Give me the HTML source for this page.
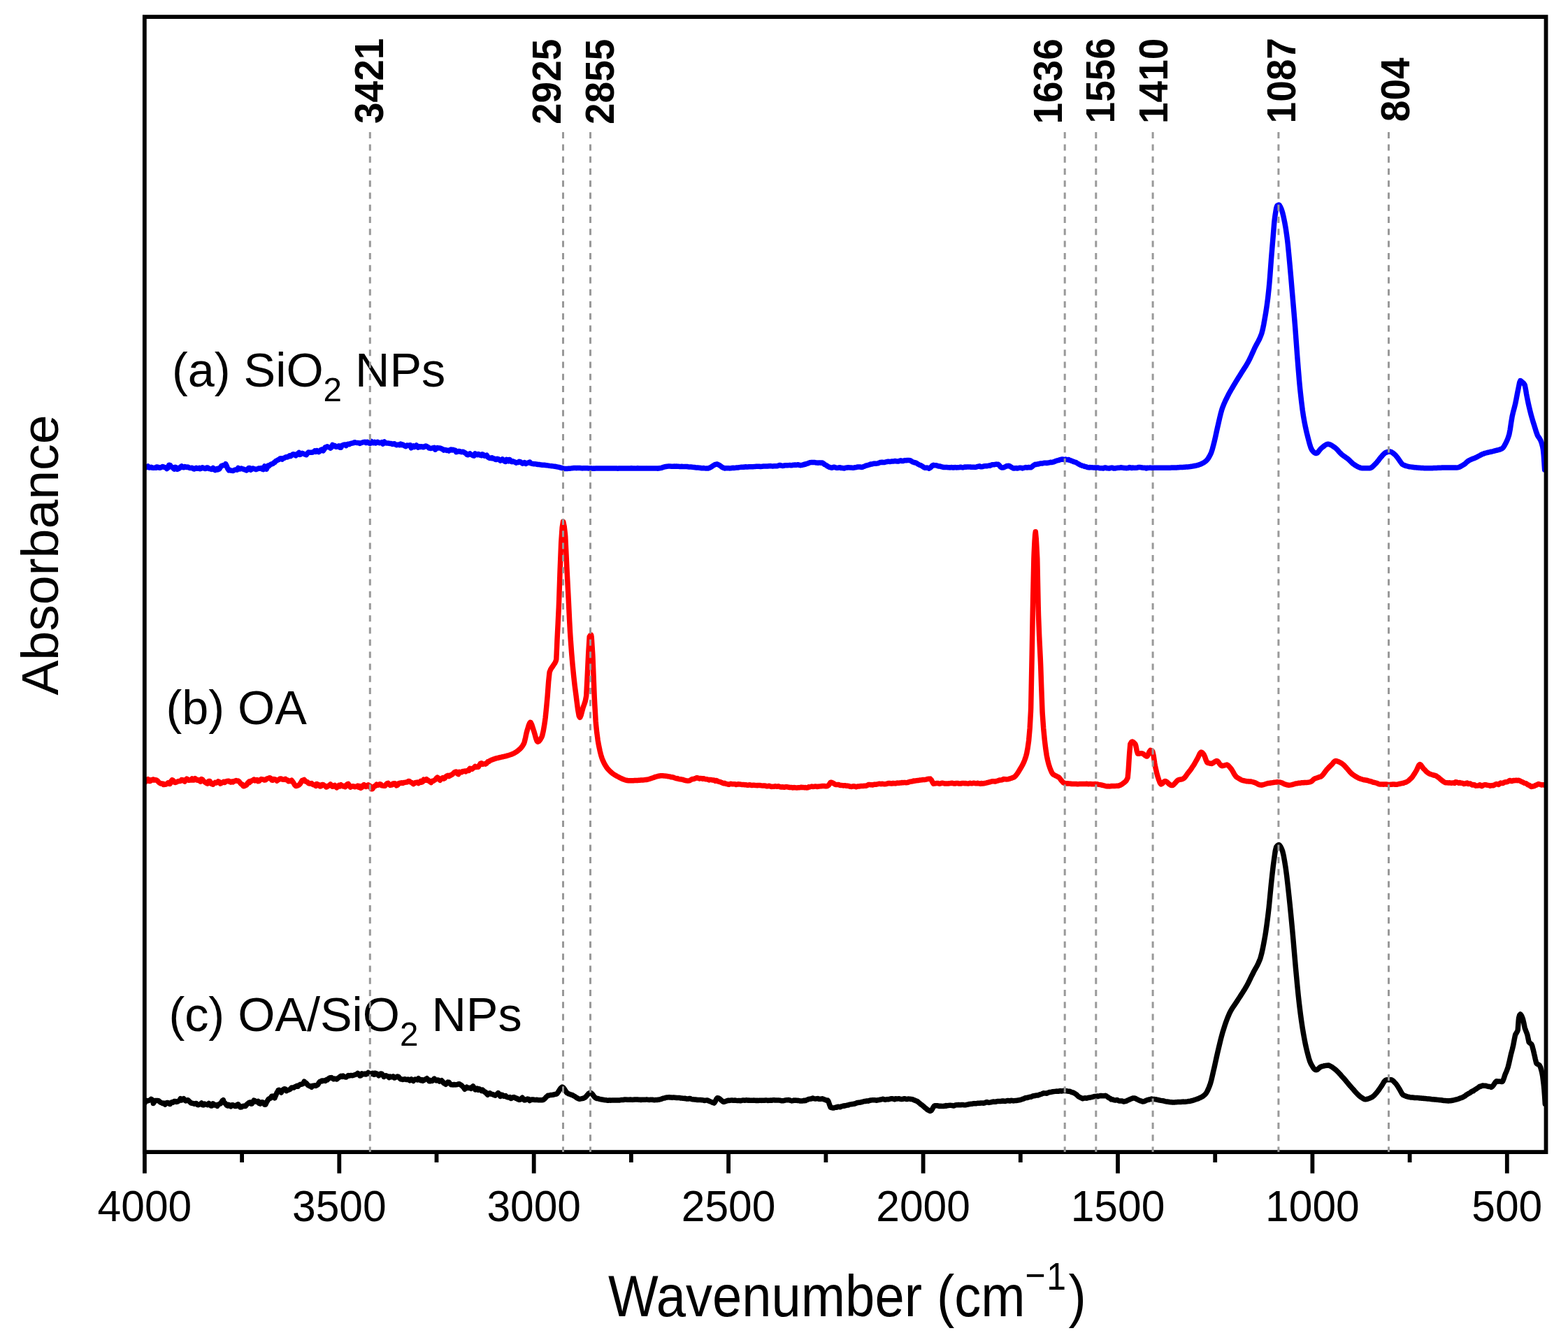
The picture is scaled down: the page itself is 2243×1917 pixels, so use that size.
<!DOCTYPE html>
<html><head><meta charset="utf-8"><title>FTIR spectra</title>
<style>
html,body{margin:0;padding:0;background:#fff;}
body{width:2243px;height:1917px;overflow:hidden;}
svg{display:block;}
text{font-family:"Liberation Sans",Arial,Helvetica,sans-serif;fill:#000;}
</style></head><body>
<svg width="2243" height="1917" viewBox="0 0 2243 1917">
<rect x="0" y="0" width="2243" height="1917" fill="#fff"/>
<defs><clipPath id="pa"><rect x="206.8" y="24.1" width="2004.7" height="1624.0"/></clipPath></defs>
<g clip-path="url(#pa)" fill="none" stroke-width="7.5" stroke-linejoin="round" stroke-linecap="round">
<path stroke="#0000ff" d="M207.2,668.3 L208.7,668.9 L210.2,668.1 L211.7,667.0 L213.2,668.9 L214.7,669.0 L216.2,668.2 L217.7,669.2 L219.2,669.4 L220.7,669.2 L222.2,669.1 L223.7,669.2 L224.0,668.1 L225.2,668.1 L226.7,668.4 L228.2,669.3 L229.7,669.0 L231.2,668.2 L232.7,667.6 L234.2,668.2 L235.7,668.6 L237.2,669.0 L238.7,670.6 L240.2,669.4 L241.7,665.2 L243.2,665.4 L244.7,667.7 L246.2,668.3 L247.7,669.0 L248.0,670.0 L249.2,671.0 L250.7,668.2 L252.2,668.7 L253.7,671.4 L255.2,670.7 L256.7,669.8 L258.2,668.0 L259.7,666.9 L261.2,668.6 L262.7,668.8 L264.2,667.5 L265.7,667.9 L267.2,668.5 L268.7,668.1 L270.2,668.9 L271.7,669.5 L273.2,669.4 L274.7,669.2 L276.2,670.5 L277.7,671.1 L279.2,670.2 L280.7,669.3 L282.2,670.3 L283.7,670.0 L284.5,670.4 L285.2,669.5 L286.7,670.7 L288.2,670.0 L289.7,668.7 L291.2,669.5 L292.7,670.5 L294.2,670.5 L295.7,669.1 L297.2,669.1 L298.7,670.4 L300.2,670.5 L301.7,671.3 L303.2,671.4 L304.7,669.5 L306.2,671.3 L307.7,672.6 L309.2,671.0 L310.7,670.4 L311.0,671.9 L312.2,671.8 L313.7,671.0 L315.2,668.7 L316.7,666.5 L318.2,666.0 L319.7,665.4 L321.2,665.8 L321.9,664.9 L322.7,663.6 L324.2,666.4 L325.7,670.5 L327.2,672.7 L328.0,671.9 L328.7,672.3 L330.2,673.1 L331.7,673.4 L333.2,673.6 L334.7,672.8 L336.2,672.0 L337.7,672.1 L339.2,672.2 L340.7,669.5 L342.2,670.7 L343.7,671.0 L345.2,670.0 L346.7,670.9 L348.2,671.0 L349.6,671.9 L349.7,671.6 L351.2,672.3 L352.7,672.9 L354.2,671.6 L355.7,669.5 L357.2,669.5 L358.7,672.3 L360.2,671.2 L361.7,670.0 L363.2,670.6 L364.7,670.9 L366.2,671.7 L367.7,671.0 L369.2,670.4 L370.7,669.9 L372.2,670.3 L373.7,669.6 L375.2,671.2 L376.7,671.6 L378.2,667.9 L378.6,666.9 L379.7,670.4 L381.2,671.2 L382.7,667.5 L383.4,666.3 L384.2,667.0 L385.7,665.5 L387.2,664.4 L388.7,663.9 L390.2,663.5 L391.7,662.1 L393.0,661.6 L393.2,661.0 L394.7,659.6 L396.2,658.8 L397.7,657.9 L399.2,657.4 L400.7,655.9 L402.2,655.7 L403.7,657.1 L405.0,655.9 L405.2,655.5 L406.7,655.3 L408.2,654.1 L409.7,653.8 L411.2,654.0 L412.7,653.2 L414.2,651.9 L415.7,652.6 L417.2,651.3 L418.7,650.0 L420.2,649.8 L421.7,650.8 L423.2,651.8 L424.7,649.7 L426.2,649.0 L427.7,647.5 L429.0,649.0 L429.2,650.4 L430.7,649.0 L432.2,648.3 L433.7,649.0 L435.2,649.6 L436.7,650.1 L438.2,650.7 L439.7,648.7 L441.2,647.1 L442.7,647.2 L444.2,647.3 L445.7,647.3 L447.2,647.0 L448.7,646.3 L450.2,645.0 L451.7,646.3 L453.2,645.1 L453.4,644.6 L454.7,646.1 L456.2,646.6 L457.7,645.2 L459.2,643.5 L460.7,642.8 L462.2,644.9 L463.7,643.0 L465.2,639.9 L465.4,639.8 L466.7,640.0 L468.2,638.8 L469.7,639.6 L471.2,639.9 L472.7,641.2 L474.2,639.9 L475.7,636.5 L477.2,637.4 L478.7,637.4 L480.2,639.3 L481.7,639.3 L483.2,638.5 L484.7,637.8 L486.2,640.3 L487.7,640.2 L489.2,637.2 L489.6,637.2 L490.7,636.6 L492.2,636.2 L493.7,636.0 L495.2,637.6 L496.7,635.6 L498.2,635.3 L499.7,635.7 L501.2,634.6 L502.7,634.3 L504.2,633.9 L505.7,633.7 L507.2,632.7 L508.7,633.1 L510.2,633.4 L511.7,633.4 L513.2,633.6 L513.7,633.8 L514.7,634.5 L516.2,633.7 L517.7,633.2 L519.2,632.7 L520.7,632.4 L522.2,632.3 L523.7,633.5 L525.2,632.3 L526.7,632.6 L528.2,634.1 L529.4,634.3 L529.7,632.7 L531.2,631.4 L532.7,633.6 L534.2,633.7 L535.7,632.5 L537.2,633.9 L538.7,632.8 L540.2,632.2 L541.7,633.4 L543.2,633.7 L544.7,633.3 L546.2,632.7 L547.7,635.1 L549.2,633.2 L550.0,632.0 L550.7,633.8 L552.2,633.8 L553.7,634.1 L555.2,633.9 L556.7,634.3 L558.2,634.6 L559.7,634.4 L561.2,635.5 L562.7,634.9 L564.2,634.7 L565.7,636.0 L567.2,636.8 L568.7,636.2 L570.2,636.1 L571.7,636.8 L573.2,635.2 L574.0,635.6 L574.7,636.6 L576.2,636.0 L577.7,637.2 L579.2,638.1 L580.7,638.6 L582.2,637.1 L583.7,637.2 L585.2,637.4 L586.7,636.8 L588.2,640.8 L589.7,638.6 L591.2,637.8 L592.7,639.4 L594.2,638.3 L595.7,637.0 L597.2,639.3 L598.0,640.1 L598.7,638.8 L600.2,638.8 L601.7,639.4 L603.2,638.7 L604.7,639.7 L606.2,639.7 L607.7,638.5 L609.2,637.9 L610.7,638.8 L612.2,639.4 L613.7,641.1 L615.2,641.2 L616.7,641.5 L618.2,641.1 L619.7,640.8 L621.2,640.3 L622.3,642.1 L622.7,643.2 L624.2,641.3 L625.7,640.5 L627.2,641.0 L628.7,640.9 L630.2,641.1 L631.7,642.0 L633.2,642.7 L634.7,644.2 L636.2,643.5 L637.7,643.8 L639.2,644.4 L640.7,644.2 L642.2,645.1 L643.7,643.7 L645.2,643.1 L646.4,643.9 L646.7,643.9 L648.2,643.3 L649.7,644.0 L651.2,644.2 L652.7,646.7 L654.2,646.3 L655.7,645.4 L657.2,645.4 L658.7,646.3 L660.2,646.7 L661.7,646.2 L663.2,646.6 L664.7,647.6 L666.2,648.4 L667.7,650.2 L669.2,650.8 L670.6,650.1 L670.7,649.6 L672.2,648.8 L673.7,650.3 L675.2,650.8 L676.7,651.8 L678.2,652.1 L679.7,649.0 L680.0,650.0 L681.2,650.0 L682.7,650.7 L684.2,649.5 L685.7,650.0 L687.2,651.3 L688.7,651.8 L689.7,651.0 L690.2,649.9 L691.7,650.6 L693.2,652.3 L694.7,651.8 L696.2,651.2 L697.7,653.7 L699.2,654.9 L700.7,655.4 L702.2,655.3 L703.7,655.8 L704.0,654.9 L705.2,655.8 L706.7,655.9 L708.2,657.2 L709.7,657.6 L711.2,656.3 L712.7,656.7 L714.2,657.7 L715.7,659.1 L717.2,658.4 L718.7,656.9 L720.2,658.4 L721.7,660.0 L723.2,660.5 L724.7,657.3 L726.2,658.1 L727.7,659.8 L728.3,657.6 L729.2,657.6 L730.7,659.9 L732.2,660.7 L733.7,659.7 L735.2,660.5 L736.7,661.2 L738.2,662.2 L739.7,661.6 L741.2,661.6 L742.7,660.3 L744.2,660.7 L745.7,661.7 L747.2,663.1 L748.7,662.6 L750.2,661.6 L751.7,663.0 L752.4,663.4 L753.2,662.5 L754.7,662.2 L756.2,661.8 L757.7,661.0 L759.2,662.8 L760.7,663.3 L762.2,663.4 L763.7,663.7 L765.2,663.7 L766.7,663.9 L768.2,664.2 L769.7,664.5 L771.2,664.5 L772.7,664.8 L774.2,665.0 L775.7,665.2 L776.5,665.3 L777.2,665.2 L778.7,665.3 L780.2,665.6 L781.7,665.7 L783.2,665.9 L784.7,666.1 L786.2,666.4 L787.7,666.6 L789.2,666.7 L790.7,666.9 L792.2,667.1 L793.7,667.3 L795.2,667.5 L795.8,667.6 L796.7,667.8 L798.2,668.1 L799.7,668.4 L801.2,668.9 L802.7,669.2 L804.2,669.6 L805.7,670.0 L807.2,670.4 L808.7,670.5 L810.2,670.6 L810.3,670.6 L811.7,670.4 L813.2,670.3 L814.7,670.3 L816.2,670.1 L817.7,669.9 L819.2,669.7 L820.7,669.6 L822.2,669.5 L823.7,669.6 L824.8,669.7 L825.2,669.6 L826.7,669.6 L828.2,669.5 L829.7,669.6 L831.2,669.7 L832.7,669.9 L834.2,669.8 L835.7,669.7 L837.2,669.7 L838.7,669.7 L840.2,669.8 L841.7,669.9 L843.2,670.0 L844.7,670.1 L846.2,670.1 L847.7,670.2 L849.0,670.2 L849.2,670.1 L850.7,670.2 L852.2,670.1 L853.7,670.0 L855.2,670.0 L856.7,670.0 L858.2,670.0 L859.7,670.0 L861.2,670.0 L862.7,670.0 L864.2,669.9 L865.7,669.9 L867.2,669.9 L868.7,670.0 L870.2,670.1 L871.7,670.0 L873.2,670.0 L874.7,670.0 L876.2,670.0 L877.7,670.0 L879.2,670.1 L880.7,670.1 L882.2,670.1 L883.7,670.2 L885.2,670.1 L886.7,670.1 L888.2,670.1 L889.7,670.0 L891.2,669.9 L892.7,669.9 L894.2,670.0 L895.7,670.1 L897.2,670.1 L898.7,670.0 L900.2,670.0 L901.7,670.0 L903.2,669.8 L904.7,670.0 L906.2,670.0 L907.7,669.9 L909.2,670.1 L910.7,669.9 L912.2,669.8 L913.7,669.9 L915.2,670.0 L916.7,670.0 L918.2,670.1 L919.7,670.1 L921.2,670.0 L922.7,669.9 L924.2,670.0 L925.7,670.1 L927.2,669.9 L928.7,669.9 L930.2,670.0 L931.7,670.1 L933.2,670.1 L934.7,670.0 L936.2,670.0 L937.7,670.1 L939.2,670.0 L940.6,669.9 L940.7,670.2 L942.2,670.1 L943.7,669.7 L945.2,669.5 L946.7,669.2 L948.2,668.6 L949.7,668.1 L951.2,667.8 L952.7,667.5 L954.2,667.3 L955.7,667.1 L957.2,667.0 L957.5,666.9 L958.7,667.1 L960.2,667.2 L961.7,667.2 L963.2,667.2 L964.7,667.1 L966.2,667.2 L967.7,667.1 L969.2,667.2 L970.7,667.3 L972.2,667.4 L973.7,667.4 L975.2,667.3 L976.7,667.4 L978.2,667.6 L979.7,667.4 L981.2,667.5 L981.6,667.5 L982.7,667.5 L984.2,667.8 L985.7,668.0 L987.2,668.1 L988.7,668.1 L990.2,668.2 L991.7,668.4 L993.2,668.5 L994.7,668.8 L996.2,669.0 L997.7,669.1 L999.2,669.1 L1000.7,669.3 L1002.2,669.5 L1003.7,669.7 L1005.2,669.7 L1006.7,669.6 L1008.2,669.9 L1009.7,670.1 L1011.2,670.1 L1012.7,670.1 L1013.0,670.0 L1014.2,669.6 L1015.7,669.0 L1017.2,668.2 L1018.7,667.2 L1020.2,666.1 L1021.7,665.2 L1023.2,664.4 L1024.7,664.1 L1025.0,664.0 L1026.2,664.1 L1027.7,664.8 L1029.2,665.6 L1030.7,666.6 L1032.2,667.8 L1033.7,668.8 L1035.2,669.4 L1036.7,669.9 L1037.0,669.9 L1038.2,669.8 L1039.7,669.8 L1041.2,669.8 L1042.7,669.8 L1044.2,669.9 L1045.7,669.7 L1047.2,669.4 L1048.7,669.3 L1050.2,669.4 L1051.7,669.3 L1053.2,669.1 L1054.7,669.0 L1056.2,668.9 L1057.7,668.6 L1059.2,668.4 L1060.7,668.2 L1062.2,668.2 L1063.7,668.3 L1065.2,668.0 L1066.0,667.9 L1066.7,667.8 L1068.2,667.9 L1069.7,667.9 L1071.2,667.8 L1072.7,667.8 L1074.2,667.8 L1075.7,667.7 L1077.2,667.7 L1078.7,667.6 L1080.2,667.4 L1081.7,667.3 L1083.2,667.3 L1084.7,667.3 L1086.2,667.3 L1087.7,667.5 L1089.2,667.4 L1090.7,667.2 L1092.2,667.1 L1093.7,667.1 L1095.2,666.9 L1096.7,666.9 L1098.2,667.0 L1099.7,666.8 L1101.2,666.6 L1102.7,666.7 L1104.2,666.9 L1105.7,666.9 L1107.2,666.8 L1108.7,666.8 L1110.2,666.7 L1111.7,666.8 L1113.2,666.2 L1114.4,665.7 L1114.7,665.6 L1116.2,665.6 L1117.7,666.1 L1119.2,666.5 L1120.7,666.3 L1122.2,665.9 L1123.7,665.7 L1125.2,665.7 L1126.7,665.8 L1128.2,665.6 L1129.7,665.4 L1131.2,665.7 L1132.7,665.8 L1134.2,665.2 L1135.7,665.2 L1137.2,665.0 L1138.7,665.3 L1140.2,665.1 L1141.7,664.7 L1143.2,665.3 L1144.7,665.7 L1146.2,665.4 L1147.7,665.3 L1149.2,664.7 L1150.6,664.1 L1150.7,664.6 L1152.2,664.2 L1153.7,663.4 L1155.2,663.2 L1156.7,662.5 L1158.2,661.8 L1159.7,661.6 L1160.2,661.4 L1161.2,661.5 L1162.7,661.4 L1164.2,661.5 L1165.7,661.5 L1167.2,662.0 L1168.7,662.1 L1170.2,662.2 L1171.7,661.9 L1173.2,662.0 L1174.7,662.2 L1176.2,661.9 L1177.7,662.9 L1179.2,664.2 L1179.3,664.3 L1180.7,665.0 L1182.2,665.8 L1183.7,667.0 L1185.2,667.8 L1186.7,668.4 L1188.2,668.8 L1189.0,669.1 L1189.7,669.2 L1191.2,668.9 L1192.7,668.2 L1194.2,668.5 L1195.7,669.1 L1197.2,669.4 L1198.7,669.2 L1200.2,668.9 L1201.7,668.8 L1203.2,669.6 L1204.7,669.4 L1206.2,669.8 L1207.7,669.9 L1209.2,669.4 L1210.7,669.0 L1212.2,669.0 L1213.7,668.7 L1215.2,668.9 L1216.7,669.0 L1218.2,669.1 L1219.7,669.3 L1221.2,669.3 L1222.7,668.8 L1224.2,668.7 L1225.7,668.2 L1227.2,668.0 L1228.7,667.9 L1230.2,667.9 L1231.7,668.3 L1232.4,668.5 L1233.2,668.4 L1234.7,667.8 L1236.2,667.3 L1237.7,666.6 L1239.2,666.0 L1240.7,665.8 L1242.2,665.3 L1243.7,664.7 L1244.5,664.6 L1245.2,664.1 L1246.7,664.0 L1248.2,663.7 L1249.7,663.3 L1251.2,663.1 L1252.7,663.3 L1254.2,663.1 L1255.7,662.9 L1257.2,662.3 L1258.7,661.6 L1260.2,661.5 L1261.7,661.2 L1263.2,661.5 L1264.7,661.6 L1266.2,661.2 L1267.7,660.7 L1268.6,660.6 L1269.2,660.6 L1270.7,660.2 L1272.2,660.4 L1273.7,660.4 L1275.2,660.1 L1276.7,660.0 L1278.2,660.0 L1279.7,659.6 L1281.2,659.6 L1282.7,659.9 L1284.2,659.9 L1285.7,659.9 L1287.2,659.2 L1288.7,658.8 L1290.2,659.5 L1291.7,659.6 L1293.2,658.9 L1294.7,658.6 L1296.2,658.8 L1297.7,658.5 L1299.2,658.6 L1300.0,658.4 L1300.7,658.6 L1302.2,658.8 L1303.7,659.7 L1305.2,660.8 L1306.7,661.2 L1308.2,661.9 L1309.6,662.1 L1309.7,661.9 L1311.2,662.6 L1312.7,663.7 L1314.2,664.5 L1315.7,665.4 L1317.2,665.7 L1318.7,666.6 L1320.2,667.6 L1321.7,668.6 L1323.2,669.3 L1324.7,669.2 L1326.2,669.1 L1327.7,669.4 L1329.0,670.2 L1329.2,670.0 L1330.7,669.2 L1332.2,667.8 L1333.7,666.0 L1335.2,665.2 L1336.0,665.7 L1336.7,665.8 L1338.2,665.7 L1339.7,665.8 L1341.2,666.5 L1342.7,667.1 L1344.2,666.9 L1345.7,667.4 L1347.2,667.8 L1348.7,668.3 L1350.2,668.6 L1351.7,668.6 L1353.0,668.5 L1353.2,668.6 L1354.7,668.6 L1356.2,668.7 L1357.7,668.8 L1359.2,668.9 L1360.7,668.6 L1362.2,668.7 L1363.7,669.0 L1365.2,668.7 L1366.7,668.6 L1368.2,668.9 L1369.7,668.8 L1371.2,668.7 L1372.7,668.5 L1374.2,668.2 L1375.7,668.6 L1377.2,668.9 L1378.7,668.6 L1380.2,668.0 L1381.7,668.2 L1383.2,668.0 L1384.7,668.1 L1386.2,668.1 L1387.7,667.9 L1389.2,668.3 L1390.7,668.2 L1392.2,668.2 L1393.7,668.3 L1395.2,668.4 L1396.7,668.1 L1398.2,667.4 L1399.7,667.3 L1401.2,666.9 L1401.3,667.3 L1402.7,667.7 L1404.2,667.8 L1405.7,667.6 L1407.2,667.0 L1408.7,666.8 L1410.2,666.6 L1411.7,666.7 L1413.2,666.4 L1414.7,666.0 L1416.2,666.3 L1417.7,665.4 L1419.2,664.8 L1420.7,664.8 L1422.2,664.7 L1423.7,664.4 L1425.2,664.1 L1426.7,664.4 L1427.9,664.3 L1428.2,664.6 L1429.7,666.0 L1431.2,668.0 L1432.7,669.0 L1434.2,669.0 L1435.7,668.8 L1437.2,668.1 L1438.7,667.4 L1440.2,666.6 L1441.7,666.6 L1442.3,666.7 L1443.2,666.3 L1444.7,667.0 L1446.2,668.1 L1447.7,668.9 L1449.2,669.6 L1449.6,670.1 L1450.7,670.1 L1452.2,669.8 L1453.7,669.6 L1455.2,670.1 L1456.7,669.7 L1458.2,669.2 L1459.7,669.2 L1461.2,669.4 L1462.7,669.9 L1464.2,669.5 L1465.7,669.0 L1467.2,668.6 L1468.7,669.0 L1470.2,668.7 L1471.7,668.5 L1473.2,668.8 L1473.7,668.7 L1474.7,668.8 L1476.2,667.9 L1477.7,666.3 L1479.2,665.3 L1480.7,664.4 L1481.0,664.6 L1482.2,664.5 L1483.7,663.9 L1485.2,664.1 L1486.7,663.5 L1488.2,662.9 L1489.7,663.0 L1491.2,663.0 L1492.7,662.5 L1494.2,662.3 L1495.7,662.2 L1497.2,662.5 L1498.7,662.2 L1500.2,661.9 L1501.7,661.8 L1502.7,661.2 L1503.2,661.3 L1504.7,661.5 L1506.2,661.0 L1507.7,660.7 L1509.2,660.0 L1510.7,659.3 L1512.2,658.9 L1513.7,658.6 L1515.2,658.1 L1516.7,657.6 L1518.2,657.3 L1519.7,657.0 L1521.2,657.3 L1522.0,657.6 L1522.7,657.5 L1524.2,657.1 L1525.7,657.6 L1527.2,657.7 L1528.7,657.5 L1529.2,658.0 L1530.2,658.4 L1531.7,658.8 L1533.2,659.4 L1534.7,660.1 L1536.2,660.7 L1537.7,661.1 L1539.2,661.4 L1540.7,662.5 L1542.2,663.5 L1543.7,664.2 L1545.2,665.1 L1546.0,665.5 L1546.7,665.7 L1548.2,666.4 L1549.7,666.6 L1551.2,667.2 L1552.7,667.5 L1554.2,667.9 L1555.7,668.5 L1557.2,668.7 L1558.2,668.9 L1558.7,668.6 L1560.2,668.7 L1561.7,668.7 L1563.2,668.9 L1564.7,668.9 L1566.2,668.9 L1567.7,669.2 L1569.2,668.9 L1570.7,669.0 L1572.2,669.6 L1573.7,669.8 L1575.2,669.8 L1576.7,669.8 L1578.2,670.1 L1579.7,669.3 L1581.2,669.0 L1582.3,669.2 L1582.7,669.7 L1584.2,669.8 L1585.7,669.9 L1587.2,669.9 L1588.7,669.4 L1590.2,669.1 L1591.7,669.3 L1593.2,670.1 L1594.7,670.0 L1596.2,669.7 L1597.7,669.4 L1599.2,669.3 L1600.7,669.3 L1602.2,669.1 L1603.7,668.7 L1605.2,669.1 L1606.7,669.3 L1608.2,669.5 L1609.7,669.6 L1611.2,669.7 L1612.7,669.5 L1614.2,669.4 L1615.7,668.6 L1617.2,668.9 L1618.7,669.6 L1620.2,669.1 L1621.7,669.2 L1623.2,669.4 L1624.7,669.2 L1626.2,669.3 L1627.7,668.8 L1629.2,668.5 L1630.7,668.6 L1632.2,668.7 L1633.7,669.1 L1635.2,669.2 L1636.7,669.3 L1638.2,669.3 L1639.7,669.9 L1640.0,669.5 L1641.2,669.3 L1642.7,669.4 L1644.2,669.2 L1645.7,669.1 L1647.2,669.3 L1648.7,669.6 L1650.2,669.3 L1651.7,669.3 L1653.2,669.3 L1654.7,669.3 L1656.2,669.3 L1657.7,669.3 L1659.2,669.3 L1660.7,669.3 L1662.2,669.3 L1663.7,669.3 L1664.3,669.3 L1665.2,669.3 L1666.7,669.3 L1668.2,669.3 L1669.7,669.3 L1671.2,669.2 L1672.7,669.2 L1674.2,669.2 L1675.7,669.1 L1677.2,669.1 L1678.7,669.0 L1680.2,669.0 L1681.7,668.9 L1683.2,668.9 L1684.7,668.8 L1686.2,668.7 L1687.7,668.6 L1689.2,668.6 L1690.7,668.5 L1692.2,668.4 L1693.7,668.3 L1695.2,668.2 L1696.7,668.1 L1698.2,668.0 L1698.3,668.0 L1699.7,667.9 L1701.2,667.7 L1702.7,667.6 L1704.2,667.3 L1705.7,667.1 L1707.2,666.8 L1708.7,666.5 L1710.2,666.2 L1711.7,665.9 L1712.8,665.6 L1713.2,665.5 L1714.7,665.1 L1716.2,664.5 L1717.7,663.9 L1719.2,663.3 L1720.7,662.5 L1722.2,661.6 L1723.7,660.6 L1725.0,659.6 L1725.2,659.4 L1726.7,657.9 L1728.2,656.0 L1729.7,653.5 L1731.2,650.7 L1732.2,648.6 L1732.7,647.4 L1734.2,642.8 L1735.7,637.2 L1737.1,631.7 L1737.2,631.3 L1738.7,624.9 L1740.2,617.9 L1741.7,611.1 L1742.0,609.8 L1743.2,604.6 L1744.7,598.0 L1746.2,591.8 L1747.7,586.4 L1748.0,585.5 L1749.2,582.1 L1750.7,578.3 L1752.2,574.9 L1753.7,571.7 L1755.2,568.7 L1756.5,566.1 L1756.7,565.7 L1758.2,562.8 L1759.7,560.1 L1761.2,557.5 L1762.7,555.0 L1764.2,552.4 L1765.7,549.9 L1766.2,549.1 L1767.2,547.4 L1768.7,544.9 L1770.2,542.5 L1771.7,540.1 L1773.2,537.7 L1774.7,535.2 L1775.9,533.3 L1776.2,532.8 L1777.7,530.4 L1779.2,528.1 L1780.7,525.8 L1782.2,523.4 L1783.7,520.9 L1785.2,518.3 L1785.6,517.6 L1786.7,515.5 L1788.2,512.5 L1789.7,509.2 L1791.2,505.9 L1792.7,502.6 L1794.2,499.3 L1795.3,496.9 L1795.7,496.1 L1797.2,493.2 L1798.7,490.4 L1800.2,487.7 L1801.7,484.7 L1803.2,481.3 L1804.7,477.2 L1805.0,476.3 L1806.2,471.8 L1807.7,464.4 L1809.2,456.0 L1809.9,452.0 L1810.7,447.3 L1812.2,437.5 L1813.5,427.8 L1813.7,426.2 L1815.2,412.1 L1816.0,403.5 L1816.7,394.9 L1818.2,374.5 L1818.4,371.9 L1819.7,355.9 L1820.8,342.8 L1821.2,337.9 L1822.7,319.2 L1823.3,313.7 L1824.2,307.0 L1825.7,297.8 L1826.9,294.3 L1827.2,294.0 L1828.7,293.2 L1829.3,293.1 L1830.2,293.6 L1831.7,296.2 L1833.0,299.1 L1833.2,299.6 L1834.7,304.3 L1836.2,310.7 L1837.7,318.0 L1837.8,318.5 L1839.2,326.4 L1840.7,336.7 L1841.5,342.8 L1842.2,348.8 L1843.7,364.0 L1845.1,379.2 L1845.2,380.3 L1846.7,397.1 L1848.2,414.7 L1848.7,420.5 L1849.7,432.1 L1851.2,449.6 L1852.4,464.2 L1852.7,468.0 L1854.2,488.4 L1855.7,508.9 L1856.0,512.7 L1857.2,527.9 L1858.7,545.9 L1859.7,556.4 L1860.2,561.2 L1861.7,574.6 L1863.2,586.5 L1864.5,595.2 L1864.7,596.4 L1866.2,604.8 L1867.7,612.2 L1869.2,618.8 L1870.6,624.4 L1870.7,624.8 L1872.2,630.6 L1873.7,636.2 L1875.2,640.8 L1876.7,643.8 L1878.2,645.6 L1879.7,647.2 L1881.2,648.2 L1882.7,648.6 L1884.2,648.0 L1885.7,646.5 L1887.2,644.5 L1888.7,642.6 L1890.0,641.3 L1890.2,641.1 L1891.7,639.9 L1893.2,638.7 L1894.7,637.5 L1896.2,636.5 L1897.7,635.7 L1899.2,635.3 L1899.7,635.3 L1900.7,635.4 L1902.2,635.8 L1903.7,636.5 L1905.2,637.3 L1906.7,638.3 L1908.2,639.4 L1909.4,640.2 L1909.7,640.4 L1911.2,641.6 L1912.7,643.1 L1914.2,644.8 L1915.7,646.5 L1917.2,648.1 L1918.7,649.5 L1919.1,649.9 L1920.2,650.8 L1921.7,651.9 L1923.2,653.0 L1924.7,654.1 L1926.2,655.1 L1927.7,656.2 L1928.8,657.1 L1929.2,657.4 L1930.7,658.8 L1932.2,660.3 L1933.7,661.8 L1935.2,663.2 L1936.7,664.3 L1937.4,664.8 L1938.2,665.3 L1939.7,666.2 L1941.2,667.1 L1942.7,667.9 L1944.2,668.6 L1945.7,669.2 L1947.2,669.6 L1948.7,669.8 L1949.0,669.8 L1950.2,669.8 L1951.7,669.8 L1953.2,669.8 L1954.7,669.8 L1956.2,669.8 L1957.7,669.8 L1959.1,669.8 L1959.2,669.8 L1960.7,669.4 L1962.2,668.6 L1963.7,667.3 L1965.2,665.9 L1966.7,664.4 L1967.8,663.3 L1968.2,662.9 L1969.7,661.2 L1971.2,659.4 L1972.7,657.4 L1974.2,655.5 L1975.0,654.6 L1975.7,653.8 L1977.2,652.0 L1978.7,650.3 L1980.2,648.8 L1981.7,647.7 L1982.3,647.4 L1983.2,647.1 L1984.7,646.6 L1986.2,646.2 L1987.7,646.0 L1988.0,646.0 L1989.2,646.2 L1990.7,646.8 L1992.2,647.8 L1993.7,649.0 L1995.2,650.2 L1995.3,650.3 L1996.7,651.7 L1998.2,653.6 L1999.7,655.6 L2001.1,657.5 L2001.2,657.6 L2002.7,659.8 L2004.2,662.0 L2005.7,663.9 L2006.9,664.8 L2007.2,664.9 L2008.7,665.6 L2010.2,666.1 L2011.7,666.6 L2013.2,667.0 L2014.7,667.4 L2016.2,667.7 L2017.7,667.9 L2019.2,668.1 L2020.7,668.3 L2021.3,668.4 L2022.2,668.5 L2023.7,668.7 L2025.2,668.8 L2026.7,668.9 L2028.2,669.1 L2029.7,669.2 L2031.2,669.3 L2032.7,669.4 L2034.2,669.5 L2035.7,669.6 L2037.2,669.7 L2038.7,669.7 L2040.2,669.8 L2041.7,669.8 L2043.0,669.8 L2043.2,669.8 L2044.7,669.8 L2046.2,669.8 L2047.7,669.7 L2049.2,669.7 L2050.7,669.6 L2052.2,669.5 L2053.7,669.5 L2055.2,669.4 L2056.7,669.3 L2058.2,669.3 L2059.7,669.2 L2061.2,669.2 L2062.7,669.1 L2064.2,669.1 L2064.8,669.1 L2065.7,669.1 L2067.2,669.1 L2068.7,669.1 L2070.2,669.1 L2071.7,669.1 L2073.2,669.1 L2074.7,669.1 L2076.2,669.1 L2077.7,669.1 L2079.2,669.1 L2080.7,669.1 L2082.2,669.1 L2083.6,669.1 L2083.7,669.1 L2085.2,668.9 L2086.7,668.5 L2088.2,667.9 L2089.7,667.1 L2091.2,666.3 L2092.7,665.4 L2093.7,664.8 L2094.2,664.5 L2095.7,663.4 L2097.2,662.0 L2098.7,660.7 L2100.2,659.5 L2101.0,659.0 L2101.7,658.6 L2103.2,657.9 L2104.7,657.2 L2106.2,656.6 L2107.7,656.0 L2109.2,655.4 L2110.7,654.8 L2111.1,654.6 L2112.2,654.1 L2113.7,653.3 L2115.2,652.5 L2116.7,651.7 L2118.2,650.9 L2119.7,650.1 L2121.2,649.5 L2122.7,648.9 L2124.2,648.4 L2125.7,648.0 L2127.2,647.6 L2128.7,647.2 L2130.2,646.9 L2131.7,646.5 L2133.2,646.2 L2134.7,645.9 L2136.2,645.5 L2137.2,645.2 L2137.7,645.1 L2139.2,644.7 L2140.7,644.3 L2142.2,644.0 L2143.7,643.6 L2145.2,643.2 L2146.7,642.6 L2148.2,641.9 L2148.8,641.6 L2149.7,640.9 L2151.2,639.0 L2152.7,636.4 L2154.2,633.5 L2154.5,632.9 L2155.7,630.4 L2157.2,626.7 L2158.7,622.0 L2158.9,621.3 L2160.2,614.6 L2161.7,604.4 L2163.2,595.3 L2164.7,589.0 L2166.2,583.5 L2167.6,577.9 L2167.7,577.5 L2169.2,570.0 L2170.7,562.0 L2171.9,556.2 L2172.2,554.8 L2173.7,547.2 L2174.8,544.6 L2175.2,544.7 L2176.7,545.8 L2177.7,546.8 L2178.2,547.2 L2179.7,548.6 L2181.2,550.9 L2181.3,551.1 L2182.7,558.4 L2183.5,563.4 L2184.2,567.1 L2185.7,574.6 L2186.4,577.9 L2187.2,581.4 L2188.7,587.7 L2190.2,593.5 L2190.7,595.3 L2191.7,598.8 L2193.2,603.8 L2194.7,608.5 L2195.1,609.8 L2196.2,613.4 L2197.7,618.3 L2199.2,622.4 L2199.4,622.8 L2200.7,625.1 L2202.2,627.1 L2203.7,629.8 L2203.8,630.0 L2205.2,633.6 L2206.7,639.3 L2207.4,643.1 L2208.2,650.6 L2209.6,672.0"/>
<path stroke="#ff0000" d="M207.2,1119.3 L208.7,1117.8 L210.2,1116.1 L211.7,1114.8 L213.2,1117.6 L214.7,1117.5 L216.2,1115.8 L217.7,1116.1 L219.2,1115.6 L219.3,1115.0 L220.7,1116.1 L222.2,1115.8 L223.7,1116.0 L225.2,1116.9 L226.7,1118.8 L228.2,1119.9 L229.7,1120.9 L231.2,1120.9 L232.7,1121.4 L233.8,1121.2 L234.2,1122.6 L235.7,1122.4 L237.2,1122.1 L238.7,1121.3 L240.2,1120.0 L241.7,1121.3 L243.2,1121.5 L244.7,1117.6 L246.2,1115.8 L247.7,1116.4 L248.3,1118.7 L249.2,1119.0 L250.7,1119.5 L252.2,1119.0 L253.7,1118.1 L255.2,1117.7 L256.7,1117.4 L258.2,1117.4 L259.7,1115.6 L261.2,1115.7 L262.7,1117.1 L264.2,1118.0 L265.7,1115.4 L267.2,1114.1 L268.7,1115.0 L270.2,1116.3 L271.7,1116.0 L273.2,1116.0 L274.7,1113.9 L276.2,1116.1 L277.7,1116.1 L279.2,1113.7 L280.7,1114.9 L282.2,1116.3 L283.7,1115.7 L285.2,1116.9 L286.7,1118.1 L286.9,1115.8 L288.2,1114.6 L289.7,1115.4 L291.2,1117.5 L292.7,1118.6 L294.2,1119.6 L295.7,1120.6 L296.5,1121.0 L297.2,1119.1 L298.7,1117.5 L300.2,1117.6 L301.7,1121.0 L303.2,1121.6 L304.7,1122.1 L306.2,1120.5 L307.7,1119.4 L309.2,1120.1 L310.7,1119.4 L312.2,1117.8 L313.7,1118.6 L315.2,1121.1 L316.7,1120.4 L318.2,1119.5 L319.7,1118.4 L320.7,1118.2 L321.2,1119.5 L322.7,1118.6 L324.2,1117.6 L325.7,1117.6 L327.2,1117.3 L328.7,1118.5 L330.2,1119.1 L331.7,1118.0 L333.2,1118.9 L334.7,1117.6 L336.2,1117.3 L337.7,1116.6 L339.2,1117.0 L340.0,1117.4 L340.7,1117.1 L342.2,1118.3 L343.7,1120.2 L345.2,1121.8 L346.7,1122.2 L347.2,1123.5 L348.2,1124.8 L349.7,1124.5 L351.2,1123.7 L352.7,1123.1 L354.2,1120.3 L355.7,1118.7 L356.9,1119.5 L357.2,1117.8 L358.7,1118.0 L360.2,1116.8 L361.7,1116.4 L363.2,1115.1 L364.7,1116.8 L366.2,1116.1 L367.7,1115.6 L369.2,1117.7 L370.7,1117.3 L372.2,1115.6 L373.7,1114.6 L375.2,1114.9 L376.7,1115.2 L378.2,1116.1 L379.7,1115.9 L381.2,1114.2 L382.7,1113.7 L384.2,1113.4 L385.7,1112.7 L387.2,1113.4 L388.2,1114.6 L388.7,1116.0 L390.2,1116.2 L391.7,1114.5 L393.2,1114.9 L394.7,1115.3 L396.2,1117.1 L397.7,1115.9 L399.2,1115.2 L400.7,1113.9 L402.2,1113.9 L403.7,1115.1 L405.2,1115.2 L406.7,1115.2 L408.2,1114.3 L409.7,1115.7 L411.2,1116.0 L412.7,1117.8 L414.2,1117.3 L415.7,1117.4 L417.2,1116.3 L418.7,1118.2 L420.2,1120.5 L421.7,1123.1 L423.2,1124.5 L424.7,1124.2 L426.2,1123.8 L427.7,1123.0 L429.2,1121.4 L430.7,1119.0 L432.2,1116.6 L433.7,1116.1 L434.1,1116.2 L435.2,1115.4 L436.7,1117.8 L438.2,1118.2 L439.7,1118.8 L441.2,1120.5 L442.7,1121.1 L444.2,1120.8 L445.7,1120.6 L447.2,1122.1 L448.7,1122.8 L450.2,1122.6 L451.7,1124.4 L453.2,1123.8 L453.4,1121.5 L454.7,1122.5 L456.2,1122.7 L457.7,1124.9 L459.2,1124.8 L460.7,1122.5 L462.2,1122.4 L463.7,1123.6 L465.2,1124.3 L466.7,1126.0 L468.2,1125.4 L469.7,1124.2 L471.2,1123.8 L472.7,1122.0 L474.2,1124.0 L475.7,1125.2 L477.2,1124.0 L478.7,1123.4 L480.2,1125.3 L481.7,1126.8 L483.2,1124.8 L484.7,1123.5 L486.2,1124.8 L487.7,1122.8 L489.2,1123.9 L489.6,1124.2 L490.7,1124.9 L492.2,1124.2 L493.7,1125.7 L495.2,1124.6 L496.7,1121.8 L498.2,1121.4 L499.7,1123.9 L501.2,1126.1 L502.7,1125.3 L504.2,1124.7 L505.7,1124.7 L507.2,1125.7 L508.7,1125.6 L510.2,1124.9 L511.7,1124.2 L513.2,1126.4 L513.7,1126.4 L514.7,1124.7 L516.2,1127.3 L517.7,1126.4 L519.2,1123.7 L520.7,1122.6 L522.2,1125.0 L523.7,1125.5 L525.2,1123.6 L526.7,1122.9 L528.2,1125.2 L529.4,1124.4 L529.7,1125.1 L531.2,1128.8 L532.7,1128.8 L534.2,1126.5 L535.7,1124.7 L537.2,1124.3 L538.7,1122.1 L540.2,1123.3 L541.7,1122.9 L543.2,1121.8 L544.7,1121.9 L546.2,1123.9 L547.7,1124.1 L549.2,1124.2 L550.7,1124.2 L552.2,1122.2 L553.7,1120.8 L555.2,1120.4 L556.7,1122.1 L558.2,1123.4 L559.7,1123.0 L561.2,1122.7 L562.0,1121.1 L562.7,1121.1 L564.2,1120.7 L565.7,1121.1 L567.2,1123.9 L568.7,1123.2 L570.2,1120.8 L571.7,1120.3 L573.2,1120.4 L574.7,1119.7 L576.2,1120.5 L577.7,1119.4 L579.2,1119.4 L580.7,1119.1 L582.2,1119.0 L583.7,1117.9 L585.2,1117.4 L586.1,1118.0 L586.7,1118.7 L588.2,1119.2 L589.7,1120.2 L591.2,1121.6 L592.7,1120.8 L594.2,1119.5 L595.7,1119.6 L597.2,1119.0 L598.7,1120.5 L600.2,1119.4 L601.7,1117.5 L603.2,1119.1 L604.7,1118.4 L606.2,1115.1 L607.7,1115.9 L609.2,1116.2 L610.2,1114.8 L610.7,1115.3 L612.2,1116.1 L613.7,1117.4 L615.2,1118.4 L616.7,1119.5 L618.2,1117.3 L619.7,1117.3 L621.2,1116.4 L622.7,1115.4 L624.2,1113.4 L625.7,1112.1 L627.2,1113.3 L628.7,1115.3 L629.5,1116.2 L630.2,1115.2 L631.7,1113.8 L633.2,1112.7 L634.7,1114.1 L636.2,1113.4 L637.7,1111.1 L639.2,1110.0 L640.7,1109.4 L642.2,1110.6 L643.7,1109.7 L645.2,1108.5 L646.4,1108.4 L646.7,1108.3 L648.2,1106.7 L649.7,1105.1 L651.2,1104.2 L652.7,1104.1 L654.2,1106.6 L655.7,1107.6 L657.2,1104.3 L658.7,1104.7 L660.2,1104.8 L661.7,1103.5 L663.2,1103.5 L664.7,1103.0 L666.2,1103.9 L667.7,1102.7 L669.2,1102.5 L670.6,1102.5 L670.7,1101.1 L672.2,1099.2 L673.7,1099.7 L675.2,1100.3 L676.7,1099.1 L678.2,1098.0 L679.7,1096.4 L680.2,1097.1 L681.2,1097.4 L682.7,1096.9 L684.2,1097.2 L685.7,1094.8 L687.2,1092.4 L688.7,1091.9 L690.2,1093.4 L691.7,1092.9 L693.2,1092.7 L693.9,1092.6 L694.7,1093.1 L696.2,1092.0 L697.7,1089.8 L699.2,1089.5 L700.7,1088.3 L702.2,1087.6 L703.7,1087.0 L705.2,1086.4 L706.7,1085.9 L707.8,1085.5 L708.2,1085.4 L709.7,1084.9 L711.2,1084.5 L712.7,1084.2 L714.2,1083.8 L715.7,1083.5 L717.2,1083.1 L718.7,1082.8 L720.2,1082.5 L721.7,1082.1 L723.2,1081.8 L724.7,1081.4 L726.2,1080.9 L726.3,1080.9 L727.7,1080.5 L729.2,1080.0 L730.7,1079.5 L732.2,1078.9 L733.7,1078.3 L735.2,1077.6 L735.6,1077.4 L736.7,1076.8 L738.2,1075.9 L739.7,1074.9 L741.2,1073.7 L742.7,1072.4 L744.2,1071.0 L744.8,1070.4 L745.7,1069.4 L747.2,1067.5 L748.7,1065.1 L749.5,1063.5 L750.2,1061.5 L751.7,1055.3 L753.2,1048.3 L754.1,1045.0 L754.7,1043.1 L756.2,1038.0 L757.7,1034.3 L758.7,1033.4 L759.2,1033.6 L760.7,1036.6 L762.2,1041.4 L763.4,1045.0 L763.7,1045.8 L765.2,1051.0 L766.7,1056.4 L768.2,1060.3 L769.2,1061.2 L769.7,1061.1 L771.2,1060.2 L772.7,1058.3 L774.2,1055.7 L775.0,1054.2 L775.7,1052.4 L777.2,1045.9 L778.7,1037.1 L779.6,1031.1 L780.2,1026.5 L781.7,1011.7 L783.1,996.3 L783.2,995.2 L784.7,974.8 L786.1,961.6 L786.2,961.3 L787.7,957.6 L789.2,955.3 L790.7,953.2 L791.2,952.3 L792.2,950.8 L793.7,948.8 L795.2,945.4 L795.8,943.1 L796.7,923.1 L797.0,915.3 L798.2,891.9 L799.3,869.0 L799.7,858.4 L800.9,822.6 L801.2,814.1 L802.7,776.3 L804.2,754.6 L805.5,746.2 L805.7,746.3 L807.2,753.3 L808.5,764.7 L808.7,767.0 L810.2,797.9 L810.8,811.1 L811.7,828.5 L813.2,857.4 L814.7,888.9 L815.5,903.7 L816.2,914.6 L817.7,934.9 L819.0,950.0 L819.2,952.2 L820.7,967.3 L822.2,980.8 L823.6,991.7 L823.7,992.4 L825.2,1004.3 L826.7,1015.7 L828.2,1024.0 L829.4,1026.4 L829.7,1026.3 L831.2,1023.1 L832.7,1017.4 L834.0,1012.5 L834.2,1011.9 L835.7,1007.8 L837.2,1003.3 L838.6,996.3 L838.7,995.5 L840.2,967.3 L841.0,950.0 L841.7,935.4 L843.2,910.9 L843.3,910.6 L844.7,908.7 L845.6,908.3 L846.2,911.4 L847.7,934.9 L847.9,938.4 L849.2,970.7 L850.2,996.3 L850.7,1006.4 L852.2,1032.0 L852.5,1035.7 L853.7,1047.6 L855.2,1058.8 L856.0,1063.5 L856.7,1067.2 L858.2,1074.3 L859.7,1080.3 L861.2,1085.0 L861.8,1086.6 L862.7,1088.7 L864.2,1091.9 L865.7,1094.6 L867.2,1097.0 L868.7,1099.1 L869.9,1100.5 L870.2,1100.8 L871.7,1102.4 L873.2,1103.9 L874.7,1105.2 L876.2,1106.4 L877.7,1107.5 L879.2,1108.5 L880.7,1109.4 L881.5,1109.8 L882.2,1110.2 L883.7,1111.0 L885.2,1111.8 L886.7,1112.6 L888.2,1113.3 L889.7,1114.1 L891.2,1114.7 L892.7,1115.3 L894.2,1115.8 L895.7,1116.2 L897.2,1116.6 L898.7,1116.7 L900.0,1116.8 L900.2,1116.8 L901.7,1116.8 L903.2,1116.8 L904.7,1116.7 L906.2,1116.7 L907.7,1116.6 L909.2,1116.6 L910.7,1116.5 L912.2,1116.4 L913.7,1116.3 L915.2,1116.2 L916.7,1116.1 L918.2,1116.0 L919.7,1115.9 L921.2,1115.8 L922.7,1115.6 L923.2,1115.6 L924.2,1115.5 L925.7,1115.2 L927.2,1114.9 L928.7,1114.5 L930.2,1114.0 L931.7,1113.5 L933.2,1113.0 L934.7,1112.5 L936.2,1111.9 L937.7,1111.4 L939.2,1111.0 L940.7,1110.6 L942.2,1110.2 L943.7,1110.0 L945.2,1109.8 L946.3,1109.8 L946.7,1109.8 L948.2,1109.8 L949.7,1109.9 L951.2,1110.1 L952.7,1110.2 L954.2,1110.4 L955.7,1110.7 L957.2,1110.9 L958.7,1111.2 L960.2,1111.8 L961.7,1111.8 L963.2,1112.1 L964.7,1112.7 L966.2,1113.2 L967.7,1113.7 L969.0,1113.7 L969.2,1113.6 L970.7,1114.3 L972.2,1114.7 L973.7,1114.8 L975.2,1115.1 L976.7,1115.3 L978.2,1115.9 L979.7,1116.3 L981.2,1116.7 L982.7,1116.9 L983.4,1117.0 L984.2,1117.1 L985.7,1116.9 L987.2,1116.3 L988.7,1115.4 L990.2,1114.6 L991.7,1114.6 L993.2,1114.2 L994.7,1113.5 L995.5,1113.4 L996.2,1112.8 L997.7,1112.8 L999.2,1113.4 L1000.7,1113.9 L1002.2,1113.4 L1003.7,1113.6 L1005.2,1114.2 L1006.7,1113.8 L1008.2,1114.4 L1009.7,1114.7 L1011.2,1114.7 L1012.7,1115.2 L1014.2,1115.9 L1015.7,1115.4 L1017.2,1115.5 L1018.7,1115.9 L1020.2,1116.0 L1021.7,1116.3 L1023.2,1117.2 L1024.5,1117.1 L1024.7,1116.6 L1026.2,1117.2 L1027.7,1118.1 L1029.2,1118.5 L1030.7,1118.7 L1032.2,1119.5 L1033.7,1120.2 L1035.2,1120.7 L1036.5,1120.7 L1036.7,1120.4 L1038.2,1121.3 L1039.7,1121.5 L1041.2,1122.0 L1042.7,1122.3 L1044.2,1121.6 L1045.7,1121.3 L1047.2,1121.8 L1048.7,1121.8 L1050.2,1121.7 L1051.7,1121.8 L1053.2,1122.5 L1054.7,1122.1 L1056.2,1121.8 L1057.7,1122.0 L1059.2,1122.1 L1060.7,1122.4 L1062.2,1122.4 L1063.7,1122.4 L1065.2,1122.7 L1066.7,1122.7 L1068.2,1123.1 L1069.7,1123.3 L1071.2,1122.9 L1072.7,1122.8 L1074.2,1123.2 L1075.7,1123.5 L1077.2,1123.3 L1078.7,1123.3 L1080.2,1123.4 L1081.7,1123.6 L1083.2,1123.7 L1084.7,1123.4 L1084.8,1123.4 L1086.2,1123.6 L1087.7,1123.6 L1089.2,1123.9 L1090.7,1124.1 L1092.2,1124.0 L1093.7,1123.9 L1095.2,1124.1 L1096.7,1124.8 L1098.2,1124.7 L1099.7,1124.2 L1101.2,1124.4 L1102.7,1125.3 L1104.2,1125.4 L1105.7,1125.2 L1107.2,1125.2 L1108.7,1124.7 L1110.2,1125.1 L1111.7,1125.3 L1113.2,1124.8 L1114.7,1125.1 L1116.2,1125.8 L1117.7,1126.0 L1119.2,1125.7 L1120.7,1126.0 L1122.2,1126.3 L1123.7,1125.8 L1125.2,1125.6 L1126.7,1125.9 L1128.2,1126.2 L1129.7,1126.6 L1131.2,1126.4 L1132.7,1126.4 L1134.2,1127.0 L1135.7,1126.6 L1137.2,1126.7 L1138.7,1126.9 L1140.2,1126.9 L1141.7,1126.8 L1143.2,1126.8 L1144.7,1126.6 L1146.2,1126.2 L1147.7,1126.5 L1149.2,1126.6 L1150.0,1126.6 L1150.7,1126.7 L1152.2,1126.6 L1153.7,1127.0 L1155.2,1126.8 L1156.7,1125.8 L1158.2,1125.9 L1159.7,1125.5 L1161.2,1125.0 L1162.7,1125.4 L1164.2,1125.3 L1165.7,1125.1 L1167.2,1125.0 L1168.7,1125.4 L1169.2,1125.5 L1170.2,1125.2 L1171.7,1125.1 L1173.2,1124.9 L1174.7,1124.7 L1176.2,1124.5 L1177.7,1124.6 L1179.2,1124.5 L1180.7,1124.7 L1182.2,1124.7 L1183.7,1124.5 L1185.2,1123.5 L1186.7,1121.4 L1188.2,1119.2 L1188.5,1119.2 L1189.7,1119.5 L1191.2,1120.1 L1192.7,1120.9 L1194.2,1121.9 L1195.7,1122.5 L1195.8,1122.4 L1197.2,1122.6 L1198.7,1122.6 L1200.2,1122.6 L1201.7,1123.5 L1203.2,1123.6 L1204.7,1123.6 L1206.2,1123.9 L1207.7,1123.8 L1209.2,1123.7 L1210.7,1124.3 L1212.2,1124.1 L1213.7,1124.4 L1215.2,1124.9 L1216.7,1125.3 L1218.2,1125.4 L1219.7,1125.0 L1221.2,1124.7 L1222.7,1124.9 L1224.2,1125.5 L1224.7,1125.7 L1225.7,1125.3 L1227.2,1124.9 L1228.7,1125.1 L1230.2,1124.7 L1231.7,1124.5 L1233.2,1124.4 L1234.7,1124.5 L1236.2,1124.3 L1237.7,1124.3 L1239.2,1124.2 L1240.7,1123.5 L1242.2,1122.5 L1243.7,1122.4 L1245.2,1122.7 L1246.7,1122.8 L1248.2,1123.0 L1249.7,1122.4 L1251.2,1122.1 L1252.7,1122.3 L1253.7,1122.3 L1254.2,1121.9 L1255.7,1121.8 L1257.2,1121.3 L1258.7,1121.3 L1260.2,1121.7 L1261.7,1121.3 L1263.2,1121.6 L1264.7,1121.7 L1266.2,1121.7 L1267.7,1121.6 L1269.2,1121.2 L1270.7,1120.5 L1272.2,1120.5 L1273.7,1120.8 L1275.2,1121.1 L1276.7,1120.6 L1278.2,1120.5 L1279.7,1120.7 L1281.2,1120.9 L1282.7,1120.2 L1284.2,1120.1 L1285.7,1120.3 L1287.2,1119.9 L1288.7,1120.1 L1289.9,1119.9 L1290.2,1119.6 L1291.7,1119.7 L1293.2,1119.6 L1294.7,1119.6 L1296.2,1119.7 L1297.7,1119.6 L1299.2,1119.1 L1300.7,1118.6 L1302.2,1118.2 L1303.7,1118.1 L1305.2,1117.9 L1306.7,1117.1 L1308.2,1117.2 L1309.7,1116.9 L1311.2,1116.7 L1312.7,1116.6 L1314.0,1116.6 L1314.2,1116.4 L1315.7,1116.0 L1317.2,1115.9 L1318.7,1115.7 L1320.2,1115.4 L1321.7,1115.4 L1323.2,1115.4 L1324.7,1115.1 L1326.2,1114.7 L1327.7,1114.3 L1329.2,1114.3 L1330.7,1114.1 L1330.9,1114.5 L1332.2,1115.6 L1333.7,1118.6 L1335.2,1121.2 L1335.8,1121.0 L1336.7,1121.1 L1338.2,1120.9 L1339.7,1120.5 L1341.2,1120.4 L1342.7,1120.9 L1344.2,1121.2 L1345.7,1120.8 L1347.2,1120.2 L1348.7,1120.2 L1350.2,1120.7 L1351.7,1121.1 L1353.2,1121.0 L1354.7,1120.9 L1356.2,1121.1 L1357.7,1120.8 L1359.2,1120.6 L1360.7,1120.5 L1362.2,1120.2 L1363.7,1120.7 L1365.2,1121.0 L1366.7,1120.9 L1368.2,1120.4 L1369.7,1120.4 L1371.2,1120.9 L1372.7,1121.0 L1374.2,1121.1 L1375.7,1120.6 L1377.2,1120.6 L1378.7,1120.5 L1380.2,1120.7 L1381.7,1120.6 L1383.2,1120.9 L1384.7,1121.1 L1386.2,1120.8 L1387.7,1120.3 L1389.2,1120.8 L1390.7,1120.8 L1392.2,1120.3 L1393.7,1120.3 L1395.2,1120.7 L1396.7,1120.8 L1398.2,1120.5 L1398.5,1120.2 L1399.7,1120.6 L1401.2,1121.0 L1402.7,1121.2 L1404.2,1120.6 L1405.7,1121.1 L1407.2,1120.9 L1408.7,1120.4 L1410.2,1120.3 L1411.7,1119.8 L1413.2,1119.5 L1414.7,1119.0 L1416.2,1118.7 L1417.7,1118.2 L1419.2,1117.8 L1420.7,1117.8 L1422.2,1117.7 L1422.6,1118.0 L1423.7,1118.0 L1425.2,1117.4 L1426.7,1117.1 L1428.2,1116.7 L1429.7,1116.1 L1431.2,1116.1 L1432.7,1115.9 L1434.2,1115.4 L1434.7,1114.9 L1435.7,1114.5 L1437.2,1114.7 L1438.7,1114.8 L1440.2,1114.9 L1441.7,1114.7 L1443.2,1114.4 L1444.7,1113.9 L1446.2,1113.5 L1447.7,1112.8 L1449.2,1112.4 L1450.0,1112.1 L1450.7,1111.8 L1452.2,1110.4 L1453.7,1108.7 L1455.2,1106.8 L1456.7,1104.4 L1458.2,1102.0 L1459.7,1099.5 L1460.0,1099.0 L1461.2,1097.1 L1462.7,1094.3 L1464.2,1091.2 L1465.7,1087.6 L1467.2,1083.3 L1467.6,1082.0 L1468.7,1077.7 L1470.2,1069.7 L1471.5,1060.4 L1471.7,1058.7 L1473.2,1041.5 L1474.5,1017.5 L1474.7,1012.1 L1476.2,936.7 L1477.2,880.0 L1477.7,854.3 L1478.9,800.0 L1479.2,791.6 L1480.0,775.0 L1480.7,764.7 L1481.3,760.7 L1482.2,770.2 L1482.5,775.0 L1483.7,797.4 L1483.8,800.0 L1485.2,868.1 L1485.5,880.0 L1486.7,910.9 L1488.2,941.3 L1488.7,953.0 L1489.7,982.7 L1491.0,1017.5 L1491.2,1021.0 L1492.7,1042.1 L1494.2,1057.6 L1494.5,1060.4 L1495.7,1070.4 L1497.2,1080.4 L1497.5,1082.0 L1498.7,1087.6 L1500.2,1093.6 L1501.7,1098.2 L1502.0,1099.0 L1503.2,1102.0 L1504.7,1105.4 L1506.2,1107.5 L1506.3,1107.6 L1507.7,1108.5 L1509.2,1109.3 L1510.7,1110.0 L1512.2,1110.8 L1513.7,1111.6 L1514.4,1112.0 L1515.2,1112.6 L1516.7,1114.4 L1518.2,1116.4 L1519.7,1118.1 L1521.2,1119.7 L1522.7,1120.5 L1523.0,1120.5 L1524.2,1120.6 L1525.7,1120.9 L1527.2,1120.8 L1528.7,1120.9 L1530.2,1121.1 L1531.7,1121.2 L1533.2,1121.5 L1534.7,1121.6 L1536.2,1121.5 L1537.7,1121.6 L1539.2,1121.5 L1540.2,1121.6 L1540.7,1121.7 L1542.2,1121.8 L1543.7,1121.6 L1545.2,1121.5 L1546.7,1121.5 L1548.2,1121.6 L1549.7,1121.4 L1551.2,1121.5 L1552.7,1121.4 L1554.2,1121.3 L1555.7,1121.5 L1557.2,1121.7 L1558.7,1121.6 L1560.2,1121.5 L1561.7,1121.7 L1563.2,1121.8 L1564.7,1121.8 L1565.9,1121.6 L1566.2,1121.5 L1567.7,1121.7 L1569.2,1121.8 L1570.7,1122.1 L1572.2,1122.4 L1573.7,1122.6 L1575.2,1122.9 L1576.7,1123.3 L1578.2,1123.6 L1579.7,1124.0 L1581.2,1124.4 L1582.7,1124.7 L1584.2,1124.9 L1585.2,1124.7 L1585.7,1124.8 L1587.2,1124.9 L1588.7,1124.7 L1590.2,1124.4 L1591.7,1124.4 L1593.2,1124.6 L1594.7,1124.6 L1596.2,1124.4 L1597.7,1124.2 L1599.2,1124.3 L1600.1,1124.2 L1600.7,1123.9 L1602.2,1123.4 L1603.7,1122.6 L1605.2,1121.8 L1606.7,1120.6 L1608.2,1119.5 L1608.8,1119.0 L1609.7,1118.2 L1611.2,1116.6 L1612.7,1113.8 L1613.2,1112.4 L1614.2,1101.4 L1615.3,1083.4 L1615.7,1077.5 L1616.8,1064.6 L1617.2,1063.7 L1618.7,1061.4 L1619.7,1061.0 L1620.2,1061.1 L1621.7,1062.1 L1623.2,1063.6 L1624.0,1064.6 L1624.7,1066.5 L1626.2,1074.1 L1627.6,1078.2 L1627.7,1078.3 L1629.2,1078.3 L1630.7,1077.9 L1632.2,1077.7 L1633.4,1077.8 L1633.7,1077.8 L1635.2,1078.4 L1636.7,1079.6 L1638.2,1080.9 L1639.7,1081.8 L1640.7,1082.1 L1641.2,1081.8 L1642.7,1079.0 L1644.2,1075.2 L1645.7,1073.3 L1647.2,1073.8 L1648.6,1074.7 L1648.7,1074.8 L1650.2,1081.4 L1651.7,1091.6 L1652.3,1095.0 L1653.2,1099.2 L1654.7,1105.7 L1656.2,1111.2 L1656.6,1112.4 L1657.7,1115.7 L1659.2,1119.7 L1660.7,1121.8 L1660.9,1121.7 L1662.2,1121.3 L1663.7,1119.9 L1665.2,1118.1 L1666.7,1117.4 L1668.2,1118.0 L1669.7,1119.1 L1671.2,1120.5 L1672.7,1121.9 L1674.2,1122.9 L1675.7,1123.5 L1676.1,1123.6 L1677.2,1123.6 L1678.7,1122.6 L1680.2,1121.1 L1681.7,1119.4 L1683.2,1117.7 L1684.7,1116.4 L1685.6,1115.9 L1686.2,1115.6 L1687.7,1115.2 L1689.2,1115.0 L1690.7,1114.7 L1692.2,1114.2 L1692.8,1113.8 L1693.7,1113.2 L1695.2,1111.8 L1696.7,1109.8 L1698.2,1107.5 L1699.7,1105.5 L1700.0,1105.2 L1701.2,1103.6 L1702.7,1101.7 L1704.2,1099.6 L1705.7,1097.3 L1707.2,1095.1 L1707.3,1095.0 L1708.7,1092.7 L1710.2,1090.0 L1711.7,1087.4 L1713.1,1084.9 L1713.2,1084.8 L1714.7,1081.5 L1716.2,1078.2 L1717.7,1076.3 L1718.1,1076.1 L1719.2,1076.4 L1720.7,1077.7 L1721.8,1079.1 L1722.2,1079.7 L1723.7,1083.1 L1725.2,1087.4 L1726.7,1090.6 L1727.5,1091.3 L1728.2,1091.5 L1729.7,1091.7 L1731.2,1092.2 L1732.7,1092.2 L1733.3,1092.4 L1734.2,1092.1 L1735.7,1091.2 L1737.2,1090.2 L1738.7,1089.2 L1740.2,1088.6 L1740.6,1088.6 L1741.7,1088.9 L1743.2,1090.6 L1744.7,1092.8 L1746.2,1094.6 L1747.7,1095.6 L1747.8,1095.7 L1749.2,1095.6 L1750.7,1095.2 L1752.2,1094.7 L1753.7,1094.4 L1755.0,1094.0 L1755.2,1094.2 L1756.7,1094.9 L1758.2,1096.4 L1759.7,1098.2 L1760.8,1099.5 L1761.2,1099.9 L1762.7,1102.2 L1764.2,1104.9 L1765.7,1107.6 L1767.2,1109.8 L1768.1,1111.0 L1768.7,1111.6 L1770.2,1112.5 L1771.7,1113.5 L1773.2,1114.3 L1774.7,1115.2 L1776.2,1116.0 L1777.7,1116.5 L1778.2,1116.5 L1779.2,1116.8 L1780.7,1117.1 L1782.2,1117.5 L1783.7,1117.7 L1785.2,1117.8 L1786.7,1118.0 L1788.2,1118.1 L1789.7,1118.1 L1791.2,1118.5 L1792.7,1118.9 L1794.2,1119.3 L1795.7,1119.8 L1797.2,1120.7 L1798.7,1121.4 L1800.2,1122.2 L1801.7,1122.8 L1803.2,1122.9 L1804.3,1123.0 L1804.7,1123.2 L1806.2,1122.8 L1807.7,1122.4 L1809.2,1122.0 L1810.7,1121.5 L1812.2,1121.0 L1813.7,1120.6 L1814.4,1120.4 L1815.2,1120.4 L1816.7,1120.3 L1818.2,1119.9 L1819.7,1119.8 L1821.2,1119.6 L1822.7,1119.3 L1824.2,1119.1 L1825.7,1118.9 L1827.2,1118.8 L1828.7,1118.9 L1828.9,1118.9 L1830.2,1119.1 L1831.7,1119.2 L1833.2,1119.7 L1834.7,1120.3 L1836.2,1121.1 L1837.7,1121.8 L1839.2,1122.2 L1840.7,1122.8 L1842.2,1123.0 L1843.4,1123.2 L1843.7,1123.3 L1845.2,1123.1 L1846.7,1122.9 L1848.2,1122.6 L1849.7,1122.2 L1851.2,1121.7 L1852.7,1121.2 L1854.2,1120.9 L1855.7,1120.7 L1857.2,1120.4 L1857.8,1120.3 L1858.7,1120.3 L1860.2,1120.2 L1861.7,1119.8 L1863.2,1119.7 L1864.7,1119.8 L1866.2,1119.5 L1867.7,1119.5 L1869.2,1119.4 L1870.7,1119.3 L1872.2,1119.1 L1873.7,1118.9 L1873.8,1118.8 L1875.2,1118.3 L1876.7,1117.3 L1878.2,1115.8 L1879.7,1114.5 L1881.0,1113.8 L1881.2,1113.7 L1882.7,1113.2 L1884.2,1112.7 L1885.7,1112.2 L1887.2,1111.6 L1888.7,1111.3 L1889.8,1110.8 L1890.2,1110.4 L1891.7,1109.2 L1893.2,1107.4 L1894.7,1105.3 L1896.2,1103.3 L1897.7,1101.3 L1898.0,1100.8 L1899.2,1099.6 L1900.7,1098.0 L1902.2,1096.5 L1903.7,1095.1 L1904.6,1094.2 L1905.2,1093.7 L1906.7,1091.8 L1908.2,1089.9 L1909.7,1088.8 L1910.4,1088.4 L1911.2,1088.5 L1912.7,1088.9 L1914.2,1089.5 L1915.7,1090.2 L1917.2,1090.9 L1917.7,1091.1 L1918.7,1091.7 L1920.2,1092.8 L1921.7,1093.9 L1923.2,1095.4 L1924.7,1097.0 L1926.0,1098.5 L1926.2,1098.7 L1927.7,1100.3 L1929.2,1102.1 L1930.7,1103.9 L1932.2,1105.6 L1933.7,1107.0 L1934.2,1107.4 L1935.2,1108.1 L1936.7,1109.1 L1938.2,1110.1 L1939.7,1111.1 L1941.2,1111.9 L1942.7,1112.8 L1944.2,1113.4 L1945.6,1114.0 L1945.7,1114.0 L1947.2,1114.5 L1948.7,1115.0 L1950.2,1115.4 L1951.7,1115.8 L1953.2,1115.9 L1954.7,1116.2 L1956.2,1116.5 L1957.7,1117.0 L1958.8,1117.4 L1959.2,1117.4 L1960.7,1117.8 L1962.2,1118.2 L1963.7,1119.0 L1965.2,1119.3 L1966.7,1119.6 L1968.2,1120.0 L1969.7,1120.4 L1971.2,1121.2 L1972.7,1121.8 L1974.2,1122.0 L1975.7,1122.0 L1977.2,1122.0 L1978.5,1122.0 L1978.7,1122.2 L1980.2,1122.1 L1981.7,1122.1 L1983.2,1122.1 L1984.7,1122.2 L1986.2,1122.4 L1987.7,1122.4 L1989.2,1122.3 L1990.7,1122.2 L1992.2,1122.0 L1993.7,1122.0 L1994.9,1122.0 L1995.2,1122.3 L1996.7,1122.2 L1998.2,1122.2 L1999.7,1121.9 L2001.2,1121.5 L2002.7,1121.2 L2004.2,1120.9 L2005.7,1120.5 L2007.2,1120.4 L2008.7,1119.8 L2010.2,1119.3 L2011.3,1119.1 L2011.7,1118.8 L2013.2,1118.0 L2014.7,1117.0 L2016.2,1115.7 L2017.7,1114.2 L2019.2,1112.8 L2019.5,1112.5 L2020.7,1110.9 L2022.2,1108.7 L2023.7,1106.4 L2025.2,1103.9 L2026.0,1102.5 L2026.7,1101.2 L2028.2,1097.8 L2029.7,1094.7 L2031.0,1093.5 L2031.2,1093.5 L2032.7,1094.6 L2034.2,1096.7 L2035.7,1098.9 L2035.9,1099.2 L2037.2,1100.4 L2038.7,1102.0 L2040.2,1103.7 L2041.7,1105.0 L2043.2,1106.1 L2044.1,1106.5 L2044.7,1106.8 L2046.2,1107.5 L2047.7,1108.0 L2049.2,1108.4 L2050.7,1109.0 L2052.2,1109.3 L2053.7,1109.6 L2053.9,1109.7 L2055.2,1110.6 L2056.7,1111.7 L2058.2,1112.7 L2059.7,1114.0 L2061.2,1115.3 L2062.7,1116.5 L2064.2,1117.7 L2065.7,1118.7 L2067.2,1119.5 L2068.7,1119.8 L2070.2,1119.8 L2071.7,1119.9 L2073.2,1119.8 L2074.7,1120.1 L2076.2,1120.2 L2077.7,1120.1 L2079.2,1120.0 L2080.7,1120.4 L2082.2,1118.7 L2083.7,1118.9 L2085.2,1119.6 L2086.7,1120.2 L2088.2,1119.6 L2089.7,1120.2 L2091.2,1120.3 L2092.7,1120.4 L2093.3,1121.1 L2094.2,1121.5 L2095.7,1121.1 L2097.2,1120.4 L2098.7,1120.1 L2100.2,1121.6 L2101.7,1121.4 L2103.2,1120.9 L2104.7,1122.1 L2106.2,1123.1 L2107.7,1122.6 L2109.2,1122.7 L2110.7,1124.2 L2112.2,1124.1 L2113.7,1123.9 L2115.2,1123.8 L2116.7,1122.7 L2117.9,1123.2 L2118.2,1124.0 L2119.7,1124.8 L2121.2,1123.7 L2122.7,1123.0 L2124.2,1122.6 L2125.7,1122.8 L2127.2,1123.2 L2128.7,1123.4 L2130.2,1123.6 L2131.7,1124.3 L2133.2,1123.8 L2134.7,1123.6 L2136.2,1123.7 L2137.7,1123.1 L2139.2,1122.0 L2140.7,1121.5 L2142.2,1121.9 L2142.6,1122.0 L2143.7,1122.4 L2145.2,1121.1 L2146.7,1120.0 L2148.2,1120.5 L2149.7,1120.6 L2151.2,1119.6 L2152.7,1119.0 L2154.2,1118.8 L2155.7,1118.8 L2157.2,1118.0 L2158.7,1117.2 L2159.0,1116.6 L2160.2,1116.4 L2161.7,1117.5 L2163.2,1117.4 L2164.7,1116.4 L2166.2,1116.7 L2167.7,1116.6 L2168.8,1116.2 L2169.2,1116.3 L2170.7,1116.7 L2172.2,1116.3 L2173.7,1116.8 L2175.2,1117.6 L2176.7,1118.3 L2178.2,1118.9 L2179.7,1119.8 L2181.2,1120.4 L2182.7,1120.6 L2183.6,1121.2 L2184.2,1121.6 L2185.7,1122.8 L2187.2,1123.1 L2188.7,1124.2 L2190.2,1125.4 L2191.7,1125.3 L2191.8,1125.1 L2193.2,1125.0 L2194.7,1124.6 L2196.2,1123.6 L2197.7,1123.1 L2199.2,1122.3 L2200.7,1121.5 L2201.6,1121.9 L2202.2,1122.0 L2203.7,1122.4 L2205.2,1122.9 L2206.7,1122.8 L2208.2,1122.7 L2209.7,1123.4 L2209.8,1123.1"/>
<path stroke="#000000" d="M207.2,1577.7 L208.7,1574.2 L210.2,1575.0 L211.7,1574.7 L213.2,1574.3 L214.7,1573.8 L216.2,1572.3 L217.7,1573.3 L219.2,1574.9 L219.3,1578.4 L220.7,1576.2 L222.2,1574.5 L223.7,1574.6 L225.2,1574.4 L226.7,1574.6 L228.2,1575.9 L229.7,1577.2 L231.2,1577.6 L232.7,1578.5 L234.2,1578.0 L235.7,1578.5 L236.2,1580.1 L237.2,1579.0 L238.7,1577.5 L240.2,1577.6 L241.7,1578.8 L243.2,1579.5 L244.7,1577.4 L246.2,1576.7 L247.7,1577.1 L249.2,1575.4 L250.7,1575.4 L252.2,1576.4 L253.7,1576.1 L255.2,1575.3 L256.7,1574.3 L258.2,1571.8 L259.7,1573.9 L261.2,1572.7 L262.7,1571.7 L264.2,1574.0 L265.7,1575.0 L267.2,1573.9 L268.7,1573.7 L270.2,1575.0 L271.7,1576.4 L273.2,1578.1 L274.7,1578.3 L276.2,1578.5 L277.7,1579.3 L279.2,1578.6 L280.7,1578.4 L282.2,1580.2 L283.7,1580.8 L285.2,1580.0 L286.7,1579.6 L286.9,1579.5 L288.2,1578.0 L289.7,1580.7 L291.2,1580.9 L292.7,1579.1 L294.2,1579.9 L295.7,1580.1 L297.2,1580.7 L298.7,1578.5 L300.2,1579.4 L301.7,1582.0 L303.2,1581.9 L304.7,1578.8 L306.2,1579.8 L307.7,1581.1 L309.2,1581.2 L310.7,1582.4 L311.0,1580.6 L312.2,1580.5 L313.7,1579.4 L315.2,1579.0 L316.7,1576.9 L318.2,1574.6 L319.4,1573.7 L319.7,1576.7 L321.2,1577.5 L322.7,1579.0 L324.2,1581.2 L325.7,1582.0 L326.7,1581.0 L327.2,1580.4 L328.7,1581.3 L330.2,1582.8 L331.7,1580.7 L333.2,1580.8 L334.7,1581.7 L336.2,1582.6 L337.7,1582.6 L339.2,1580.4 L340.7,1579.8 L342.2,1582.1 L343.7,1584.1 L345.2,1583.9 L346.7,1582.8 L348.2,1582.2 L349.6,1582.5 L349.7,1582.5 L351.2,1582.4 L352.7,1580.4 L354.2,1579.1 L355.7,1577.8 L357.2,1576.9 L358.7,1577.0 L359.3,1579.2 L360.2,1579.0 L361.7,1577.2 L363.2,1574.1 L364.7,1574.9 L366.2,1575.9 L367.7,1576.4 L369.2,1575.4 L370.7,1578.5 L372.2,1579.1 L373.7,1576.9 L375.2,1576.7 L376.7,1577.4 L378.2,1578.8 L378.6,1580.3 L379.7,1580.3 L381.2,1577.1 L382.7,1574.6 L384.2,1572.3 L385.7,1571.5 L387.0,1571.2 L387.2,1570.6 L388.7,1568.3 L390.2,1568.1 L391.7,1568.6 L393.0,1570.7 L393.2,1570.1 L394.7,1566.7 L396.2,1563.0 L397.7,1560.9 L397.9,1559.8 L399.2,1559.3 L400.7,1561.4 L402.2,1563.0 L403.7,1560.5 L405.2,1558.7 L406.7,1557.8 L408.2,1557.9 L409.7,1559.9 L409.9,1560.6 L411.2,1559.7 L412.7,1559.3 L414.2,1558.8 L415.7,1557.7 L417.2,1555.9 L418.7,1556.0 L420.2,1556.1 L421.7,1554.8 L423.2,1554.1 L424.4,1553.5 L424.7,1554.2 L426.2,1554.2 L427.7,1552.5 L429.2,1551.5 L430.7,1551.3 L432.2,1550.9 L433.7,1550.1 L435.2,1547.1 L435.3,1548.6 L436.7,1548.7 L438.2,1549.7 L439.7,1551.5 L441.2,1552.9 L442.7,1553.6 L444.2,1554.1 L445.7,1555.2 L446.1,1553.6 L447.2,1553.3 L448.7,1553.5 L450.2,1552.7 L451.7,1553.5 L453.2,1552.7 L454.7,1551.7 L456.2,1548.9 L457.7,1547.2 L459.2,1547.0 L460.6,1546.8 L460.7,1545.9 L462.2,1545.9 L463.7,1546.0 L465.2,1546.4 L466.7,1544.8 L468.2,1544.9 L469.7,1543.3 L471.2,1542.1 L472.7,1541.8 L474.2,1541.6 L475.7,1542.9 L477.2,1543.8 L478.7,1543.1 L480.2,1543.5 L481.7,1544.0 L483.2,1542.6 L484.7,1541.6 L486.2,1540.3 L487.7,1539.3 L489.2,1540.3 L490.7,1539.1 L492.2,1540.4 L493.7,1540.7 L495.2,1541.1 L496.7,1539.7 L498.2,1538.6 L499.7,1539.1 L501.2,1538.5 L502.7,1538.5 L504.2,1538.7 L505.7,1538.3 L507.2,1537.8 L508.7,1537.2 L510.2,1536.8 L511.7,1535.4 L513.2,1536.4 L513.7,1536.8 L514.7,1539.0 L516.2,1538.7 L517.7,1535.8 L519.2,1536.7 L520.7,1536.7 L522.2,1536.1 L523.7,1537.0 L525.2,1535.9 L526.7,1534.5 L528.2,1535.6 L529.7,1536.4 L531.2,1536.2 L532.7,1535.4 L534.2,1537.0 L535.4,1537.2 L535.7,1535.2 L537.2,1535.3 L538.7,1536.0 L540.2,1536.7 L541.7,1538.7 L543.2,1537.5 L544.7,1535.9 L546.2,1536.2 L547.7,1538.2 L549.2,1540.4 L550.7,1538.9 L552.2,1538.8 L553.7,1539.4 L555.2,1540.0 L556.7,1541.6 L558.2,1540.1 L559.7,1540.5 L561.2,1540.8 L562.0,1540.5 L562.7,1539.9 L564.2,1542.0 L565.7,1541.3 L567.2,1540.7 L568.7,1540.0 L570.2,1540.6 L571.7,1542.5 L573.2,1543.7 L574.7,1544.0 L576.2,1544.5 L577.7,1544.1 L579.2,1543.7 L580.7,1544.4 L582.2,1544.4 L583.7,1544.0 L585.2,1545.0 L586.1,1545.7 L586.7,1544.5 L588.2,1543.9 L589.7,1545.5 L591.2,1546.5 L592.7,1544.6 L594.2,1543.9 L595.7,1544.5 L597.2,1545.0 L598.7,1542.8 L600.2,1544.6 L601.7,1545.6 L603.2,1544.6 L604.7,1546.2 L606.2,1545.6 L607.7,1544.3 L609.2,1544.1 L610.7,1542.8 L612.2,1544.3 L613.7,1546.5 L615.1,1545.4 L615.2,1546.8 L616.7,1546.1 L618.2,1546.4 L619.7,1545.1 L621.2,1543.1 L622.7,1544.7 L624.2,1546.0 L625.7,1545.0 L627.2,1545.3 L628.7,1547.1 L630.2,1546.5 L631.7,1545.7 L633.2,1547.3 L634.4,1549.1 L634.7,1548.8 L636.2,1550.4 L637.7,1551.3 L639.2,1549.7 L640.7,1548.1 L642.2,1548.3 L643.7,1550.2 L645.2,1551.8 L646.7,1551.8 L648.2,1551.9 L649.7,1551.4 L651.2,1551.9 L652.7,1551.7 L654.2,1551.5 L655.7,1550.7 L657.2,1550.8 L658.5,1551.9 L658.7,1551.7 L660.2,1552.6 L661.7,1554.4 L663.2,1555.6 L664.7,1558.2 L666.2,1556.9 L667.7,1555.3 L669.2,1556.5 L670.7,1556.5 L672.2,1556.2 L673.7,1557.4 L675.2,1555.4 L676.7,1553.9 L678.2,1557.0 L679.7,1557.9 L680.0,1559.0 L681.2,1557.3 L682.7,1557.1 L684.2,1559.2 L685.7,1557.8 L687.2,1558.9 L688.7,1560.5 L689.7,1559.6 L690.2,1559.2 L691.7,1560.6 L693.2,1562.3 L694.5,1562.3 L694.7,1563.2 L696.2,1564.8 L697.7,1566.2 L699.2,1564.3 L700.7,1563.7 L702.2,1565.2 L703.7,1565.2 L705.2,1565.8 L706.7,1566.5 L708.2,1567.2 L709.7,1566.0 L711.2,1565.3 L712.7,1563.6 L714.2,1565.7 L715.7,1568.4 L716.2,1567.0 L717.2,1566.1 L718.7,1566.4 L720.2,1568.3 L721.7,1568.3 L723.2,1567.5 L724.7,1569.2 L726.2,1569.8 L727.7,1569.9 L729.2,1569.6 L730.7,1571.5 L732.2,1570.9 L733.7,1569.9 L735.2,1569.5 L736.7,1570.3 L738.2,1571.4 L739.7,1571.3 L740.3,1572.3 L741.2,1572.7 L742.7,1573.4 L744.2,1573.1 L745.7,1571.6 L747.2,1570.3 L748.7,1572.5 L750.2,1573.9 L751.7,1573.7 L752.4,1573.5 L753.2,1572.5 L754.7,1572.1 L756.2,1572.4 L757.7,1574.5 L759.2,1573.7 L760.7,1573.1 L762.2,1573.0 L763.7,1573.3 L765.2,1573.6 L766.7,1573.5 L768.2,1573.3 L769.7,1573.7 L771.2,1573.8 L772.7,1573.7 L774.2,1573.7 L775.7,1573.7 L776.5,1573.6 L777.2,1573.4 L778.7,1572.2 L780.2,1570.8 L781.7,1569.1 L783.2,1567.9 L783.8,1567.2 L784.7,1567.2 L786.2,1566.9 L787.7,1566.5 L789.2,1566.4 L790.7,1566.3 L792.2,1566.0 L793.7,1565.5 L795.2,1565.2 L795.8,1565.2 L796.7,1564.7 L798.2,1562.7 L799.7,1560.4 L801.2,1558.0 L802.7,1556.2 L804.2,1555.1 L804.3,1555.0 L805.7,1555.9 L807.2,1557.8 L808.7,1560.2 L810.2,1562.5 L811.5,1563.8 L811.7,1563.8 L813.2,1564.7 L814.7,1565.2 L816.2,1565.9 L817.7,1566.2 L819.2,1566.8 L820.0,1567.4 L820.7,1567.7 L822.2,1568.5 L823.7,1569.6 L825.2,1570.6 L826.7,1571.4 L828.2,1572.1 L829.6,1572.3 L829.7,1572.1 L831.2,1571.9 L832.7,1571.6 L834.2,1571.3 L835.7,1570.6 L836.9,1570.0 L837.2,1569.7 L838.7,1568.3 L840.2,1566.6 L841.7,1564.7 L843.2,1563.7 L844.1,1563.4 L844.7,1563.3 L846.2,1564.2 L847.7,1565.7 L849.2,1567.7 L850.7,1569.6 L852.2,1570.8 L853.7,1571.4 L855.2,1571.5 L856.7,1572.1 L858.2,1572.5 L859.7,1572.7 L861.2,1573.1 L862.7,1573.2 L864.2,1573.5 L865.7,1573.7 L867.2,1573.8 L868.7,1574.2 L870.2,1574.3 L871.7,1573.9 L873.0,1573.9 L873.2,1574.2 L874.7,1574.1 L876.2,1573.9 L877.7,1574.0 L879.2,1574.0 L880.7,1573.9 L882.2,1574.0 L883.7,1573.9 L885.2,1574.0 L886.7,1573.9 L888.2,1573.6 L889.7,1573.6 L891.2,1573.5 L892.7,1573.2 L894.2,1572.9 L895.7,1573.1 L897.2,1573.2 L898.7,1573.3 L900.2,1573.2 L901.7,1573.1 L903.2,1573.2 L904.7,1573.4 L906.2,1573.2 L907.7,1573.0 L909.2,1573.1 L910.7,1573.0 L912.2,1573.1 L913.7,1573.2 L915.2,1573.3 L916.7,1573.5 L918.2,1573.2 L919.7,1573.2 L921.2,1573.2 L922.7,1573.3 L924.2,1573.1 L925.7,1573.1 L927.2,1573.3 L928.7,1573.4 L930.2,1573.3 L931.7,1573.2 L933.2,1573.2 L934.7,1573.5 L936.2,1573.7 L937.7,1573.6 L939.2,1573.5 L940.6,1573.4 L940.7,1573.2 L942.2,1573.2 L943.7,1572.9 L945.2,1572.6 L946.7,1572.0 L948.2,1571.3 L949.7,1571.1 L951.2,1570.8 L952.7,1570.1 L954.2,1569.9 L955.1,1569.9 L955.7,1569.9 L957.2,1569.7 L958.7,1570.0 L960.2,1570.0 L961.7,1570.2 L963.2,1570.1 L964.7,1570.1 L966.2,1570.3 L967.7,1570.5 L969.2,1570.4 L969.6,1570.4 L970.7,1570.4 L972.2,1570.4 L973.7,1571.0 L975.2,1571.1 L976.7,1571.2 L978.2,1571.4 L979.7,1571.3 L981.2,1571.6 L982.7,1572.1 L984.2,1572.1 L985.7,1571.6 L987.2,1571.6 L988.7,1572.2 L990.2,1572.7 L991.7,1572.8 L993.2,1572.9 L993.7,1573.0 L994.7,1573.0 L996.2,1573.2 L997.7,1573.5 L999.2,1573.6 L1000.7,1573.6 L1002.2,1573.5 L1003.7,1573.7 L1005.2,1573.8 L1006.7,1574.3 L1008.2,1574.5 L1009.7,1574.1 L1011.2,1573.9 L1012.7,1574.4 L1013.0,1574.7 L1014.2,1575.1 L1015.7,1575.7 L1017.2,1576.2 L1018.7,1577.0 L1020.2,1577.7 L1021.5,1577.7 L1021.7,1577.9 L1023.2,1575.7 L1024.7,1572.5 L1026.2,1570.7 L1026.3,1570.7 L1027.7,1570.9 L1029.2,1571.7 L1030.7,1573.0 L1032.2,1574.4 L1033.7,1575.6 L1035.2,1576.4 L1035.9,1576.3 L1036.7,1576.0 L1038.2,1575.5 L1039.7,1574.8 L1041.2,1574.4 L1042.0,1574.2 L1042.7,1574.4 L1044.2,1574.3 L1045.7,1574.1 L1047.2,1574.0 L1048.7,1574.2 L1050.2,1574.2 L1051.7,1574.0 L1053.2,1574.4 L1054.7,1574.6 L1056.2,1574.4 L1057.7,1574.5 L1059.2,1574.7 L1060.7,1574.5 L1062.2,1574.1 L1063.7,1574.1 L1065.2,1574.2 L1066.7,1574.0 L1068.2,1573.8 L1069.7,1574.2 L1071.2,1574.1 L1072.7,1574.2 L1074.2,1574.2 L1075.7,1574.3 L1077.2,1574.2 L1078.7,1574.1 L1080.2,1574.3 L1081.7,1574.5 L1083.2,1574.3 L1084.7,1574.4 L1086.2,1574.3 L1087.7,1574.2 L1089.2,1574.4 L1090.2,1574.2 L1090.7,1574.3 L1092.2,1574.2 L1093.7,1574.2 L1095.2,1574.0 L1096.7,1574.0 L1098.2,1574.4 L1099.7,1574.3 L1101.2,1574.2 L1102.7,1574.1 L1104.2,1574.2 L1105.7,1573.7 L1107.2,1573.7 L1108.7,1574.0 L1110.2,1573.9 L1111.7,1573.9 L1113.2,1574.1 L1114.7,1574.1 L1116.2,1574.3 L1117.7,1574.8 L1119.2,1574.8 L1120.7,1574.7 L1122.2,1574.3 L1123.7,1573.9 L1125.2,1573.7 L1126.7,1573.7 L1128.2,1573.5 L1129.7,1573.9 L1131.2,1574.5 L1132.7,1574.9 L1134.2,1574.6 L1135.7,1574.1 L1137.2,1574.2 L1138.7,1574.1 L1140.2,1574.4 L1141.7,1574.3 L1143.2,1574.7 L1144.7,1575.1 L1146.2,1575.0 L1147.7,1575.0 L1149.2,1574.5 L1150.6,1574.3 L1150.7,1574.7 L1152.2,1574.6 L1153.7,1573.8 L1155.2,1573.2 L1156.7,1572.4 L1158.2,1572.2 L1159.7,1572.1 L1161.2,1571.6 L1162.6,1571.2 L1162.7,1571.1 L1164.2,1571.6 L1165.7,1571.9 L1167.2,1571.9 L1168.7,1571.7 L1170.2,1571.6 L1171.7,1572.3 L1173.2,1572.2 L1174.5,1572.2 L1174.7,1572.2 L1176.2,1571.8 L1177.7,1572.4 L1179.2,1572.9 L1180.7,1573.5 L1182.2,1574.2 L1183.7,1574.5 L1184.1,1574.2 L1185.2,1576.1 L1186.7,1580.6 L1188.2,1584.3 L1189.0,1584.6 L1189.7,1584.4 L1191.2,1585.0 L1192.7,1585.0 L1194.2,1584.5 L1195.7,1584.1 L1197.2,1584.2 L1198.7,1583.2 L1200.2,1583.4 L1201.7,1583.8 L1203.2,1583.1 L1204.7,1582.5 L1206.2,1582.1 L1207.7,1582.2 L1208.3,1581.7 L1209.2,1581.7 L1210.7,1581.4 L1212.2,1581.0 L1213.7,1580.9 L1215.2,1580.1 L1216.7,1579.9 L1218.2,1579.7 L1219.7,1579.4 L1221.2,1579.3 L1222.7,1579.0 L1224.2,1578.4 L1225.7,1577.8 L1227.2,1577.5 L1228.7,1577.3 L1230.2,1577.2 L1231.7,1576.8 L1233.2,1576.5 L1234.7,1576.0 L1236.2,1575.6 L1237.7,1575.6 L1239.2,1575.1 L1240.7,1575.1 L1242.2,1575.2 L1243.7,1574.5 L1244.5,1574.3 L1245.2,1574.0 L1246.7,1573.9 L1248.2,1573.7 L1249.7,1573.8 L1251.2,1573.8 L1252.7,1573.9 L1254.2,1574.2 L1255.7,1573.8 L1257.2,1573.6 L1258.7,1573.3 L1260.2,1573.0 L1261.7,1572.6 L1263.2,1572.3 L1264.7,1572.8 L1266.2,1573.2 L1267.7,1572.9 L1269.2,1572.6 L1270.7,1572.8 L1272.2,1572.4 L1273.7,1572.0 L1275.2,1571.8 L1276.7,1571.8 L1278.2,1572.2 L1279.7,1572.8 L1280.7,1572.2 L1281.2,1571.8 L1282.7,1571.9 L1284.2,1571.9 L1285.7,1571.7 L1287.2,1572.1 L1288.7,1572.5 L1290.2,1572.4 L1291.7,1572.3 L1293.2,1571.7 L1294.7,1571.7 L1296.2,1572.5 L1297.7,1572.5 L1299.2,1571.9 L1300.7,1572.1 L1302.2,1572.3 L1302.4,1572.4 L1303.7,1572.4 L1305.2,1572.6 L1306.7,1573.3 L1308.2,1574.0 L1309.7,1574.7 L1311.2,1575.1 L1312.7,1575.9 L1314.2,1577.3 L1315.7,1578.4 L1316.9,1579.5 L1317.2,1579.9 L1318.7,1580.8 L1320.2,1581.9 L1321.7,1583.3 L1323.2,1584.7 L1324.7,1585.8 L1326.2,1587.2 L1327.7,1588.2 L1329.2,1588.9 L1330.7,1589.4 L1331.3,1589.1 L1332.2,1588.8 L1333.7,1586.5 L1335.2,1583.8 L1336.7,1581.9 L1337.4,1581.8 L1338.2,1581.7 L1339.7,1581.7 L1341.2,1581.7 L1342.7,1582.3 L1344.2,1582.6 L1345.7,1582.3 L1347.2,1582.5 L1348.7,1582.4 L1350.2,1582.6 L1351.7,1582.0 L1353.0,1581.6 L1353.2,1582.2 L1354.7,1581.9 L1356.2,1581.5 L1357.7,1581.4 L1359.2,1581.2 L1360.7,1581.4 L1362.2,1581.5 L1363.7,1582.0 L1365.2,1581.7 L1366.7,1580.9 L1368.2,1580.7 L1369.7,1580.7 L1371.2,1580.5 L1372.7,1580.8 L1374.2,1580.8 L1375.7,1580.5 L1377.2,1580.4 L1378.7,1580.7 L1380.2,1580.9 L1381.7,1580.7 L1383.2,1580.3 L1384.7,1580.1 L1386.2,1579.6 L1387.7,1579.5 L1389.2,1579.3 L1390.7,1579.3 L1392.2,1578.8 L1393.7,1578.6 L1395.2,1578.8 L1396.7,1578.7 L1398.2,1578.2 L1399.7,1578.2 L1401.2,1578.3 L1401.3,1578.3 L1402.7,1578.0 L1404.2,1578.0 L1405.7,1578.0 L1407.2,1578.2 L1408.7,1577.8 L1410.2,1576.9 L1411.7,1576.6 L1413.2,1577.1 L1414.7,1577.4 L1416.2,1577.1 L1417.7,1576.9 L1419.2,1576.4 L1420.7,1576.0 L1422.2,1576.3 L1423.7,1576.3 L1425.2,1576.0 L1426.7,1575.5 L1428.2,1575.6 L1429.7,1575.5 L1431.2,1575.6 L1432.7,1575.3 L1434.2,1575.0 L1435.7,1575.1 L1437.2,1575.5 L1438.7,1575.2 L1440.2,1574.7 L1441.7,1574.5 L1443.2,1574.7 L1444.7,1575.0 L1446.2,1574.3 L1447.7,1574.4 L1449.2,1574.8 L1449.6,1575.0 L1450.7,1574.7 L1452.2,1574.6 L1453.7,1574.5 L1455.2,1574.3 L1456.7,1573.9 L1458.2,1573.8 L1459.7,1573.4 L1461.2,1573.0 L1462.7,1572.2 L1464.2,1572.0 L1465.7,1571.1 L1467.2,1570.6 L1468.7,1570.6 L1470.2,1570.1 L1471.7,1569.8 L1473.2,1569.3 L1474.7,1569.3 L1476.2,1568.6 L1477.7,1567.8 L1479.2,1567.8 L1480.7,1567.5 L1482.2,1566.9 L1483.7,1566.9 L1485.2,1567.0 L1485.8,1566.6 L1486.7,1566.1 L1488.2,1565.6 L1489.7,1565.4 L1491.2,1564.5 L1492.7,1563.8 L1494.2,1563.9 L1495.7,1563.9 L1497.2,1564.2 L1498.7,1563.6 L1500.2,1562.8 L1501.7,1562.4 L1503.2,1562.4 L1504.7,1562.0 L1506.2,1561.7 L1507.7,1561.6 L1509.2,1561.4 L1510.7,1561.2 L1512.2,1561.1 L1513.7,1561.3 L1515.2,1561.0 L1516.7,1560.4 L1518.2,1561.0 L1519.7,1560.7 L1521.2,1560.6 L1522.0,1560.2 L1522.7,1560.3 L1524.2,1560.5 L1525.7,1560.7 L1527.2,1561.1 L1528.7,1561.3 L1530.2,1561.3 L1531.7,1561.9 L1533.2,1562.6 L1534.0,1562.8 L1534.7,1562.8 L1536.2,1563.5 L1537.7,1564.5 L1539.2,1565.4 L1540.7,1566.7 L1542.2,1568.3 L1543.7,1569.2 L1545.2,1570.0 L1546.7,1570.7 L1548.2,1571.5 L1548.5,1571.7 L1549.7,1571.2 L1551.2,1571.0 L1552.7,1570.8 L1554.2,1571.2 L1555.7,1570.8 L1557.2,1570.2 L1558.7,1570.2 L1560.2,1569.9 L1561.7,1569.6 L1563.2,1569.2 L1564.7,1568.7 L1566.2,1568.5 L1567.7,1568.5 L1569.2,1568.2 L1570.2,1568.1 L1570.7,1568.6 L1572.2,1568.0 L1573.7,1567.6 L1575.2,1567.5 L1576.7,1567.8 L1578.2,1567.8 L1579.7,1567.7 L1579.9,1567.6 L1581.2,1567.3 L1582.7,1568.0 L1584.2,1569.0 L1585.7,1570.2 L1587.2,1571.1 L1588.7,1571.7 L1589.5,1572.8 L1590.2,1572.5 L1591.7,1572.9 L1593.2,1573.6 L1594.7,1574.0 L1596.2,1573.9 L1597.7,1573.5 L1599.2,1574.2 L1600.7,1575.0 L1602.2,1575.0 L1603.7,1574.9 L1605.2,1575.0 L1606.7,1575.9 L1608.2,1576.0 L1608.8,1575.6 L1609.7,1575.6 L1611.2,1575.2 L1612.7,1574.3 L1614.2,1573.7 L1615.7,1573.0 L1617.2,1572.3 L1618.7,1571.8 L1620.2,1571.1 L1620.9,1570.9 L1621.7,1571.1 L1623.2,1571.1 L1624.7,1571.6 L1626.2,1572.6 L1627.7,1573.2 L1629.2,1574.0 L1630.7,1574.7 L1632.2,1575.0 L1633.7,1575.7 L1635.2,1576.0 L1635.4,1575.9 L1636.7,1575.7 L1638.2,1575.0 L1639.7,1574.1 L1641.2,1573.8 L1642.7,1573.3 L1644.2,1573.0 L1645.7,1572.5 L1647.2,1572.1 L1647.5,1572.3 L1648.7,1572.8 L1650.2,1572.5 L1651.7,1572.6 L1653.2,1572.8 L1654.7,1573.1 L1656.2,1573.4 L1657.7,1573.8 L1659.2,1574.1 L1660.7,1574.4 L1662.2,1574.6 L1663.7,1574.8 L1664.3,1574.9 L1665.2,1575.2 L1666.7,1575.6 L1668.2,1575.9 L1669.7,1576.0 L1671.2,1576.2 L1672.7,1576.6 L1674.2,1576.7 L1675.7,1576.7 L1676.4,1576.9 L1677.2,1576.9 L1678.7,1576.9 L1680.2,1576.9 L1681.7,1576.8 L1683.2,1576.7 L1684.7,1576.6 L1686.2,1576.5 L1687.7,1576.5 L1689.2,1576.5 L1690.7,1576.3 L1692.2,1576.1 L1693.7,1576.2 L1695.2,1576.2 L1696.7,1576.1 L1698.2,1575.9 L1699.7,1575.6 L1700.7,1575.5 L1701.2,1575.5 L1702.7,1575.2 L1704.2,1574.8 L1705.7,1574.5 L1707.2,1574.1 L1708.7,1573.5 L1710.2,1573.0 L1711.7,1572.5 L1712.8,1572.1 L1713.2,1572.0 L1714.7,1571.4 L1716.2,1570.7 L1717.7,1570.0 L1719.2,1569.2 L1720.7,1568.3 L1722.2,1567.1 L1723.7,1565.9 L1725.2,1564.1 L1726.7,1561.6 L1728.2,1558.5 L1729.7,1554.9 L1731.0,1551.4 L1731.2,1550.9 L1732.7,1545.7 L1734.2,1539.3 L1735.7,1532.7 L1735.9,1531.9 L1737.2,1526.3 L1738.7,1519.5 L1740.2,1512.6 L1741.7,1506.0 L1741.9,1505.2 L1743.2,1499.7 L1744.7,1493.3 L1746.2,1487.2 L1747.7,1481.4 L1749.2,1476.1 L1750.7,1471.3 L1752.2,1466.7 L1753.7,1462.2 L1755.2,1458.2 L1756.7,1454.4 L1758.2,1450.9 L1758.9,1449.4 L1759.7,1447.8 L1761.2,1445.0 L1762.7,1442.6 L1764.2,1440.3 L1765.7,1438.1 L1767.2,1435.9 L1768.7,1433.7 L1770.2,1431.4 L1771.1,1429.9 L1771.7,1429.0 L1773.2,1426.7 L1774.7,1424.4 L1776.2,1422.0 L1777.7,1419.7 L1779.2,1417.3 L1780.7,1414.9 L1782.2,1412.3 L1783.2,1410.6 L1783.7,1409.7 L1785.2,1406.9 L1786.7,1404.0 L1788.2,1400.8 L1789.7,1397.7 L1791.2,1394.7 L1792.7,1391.7 L1792.9,1391.3 L1794.2,1388.8 L1795.7,1386.1 L1797.2,1383.5 L1798.7,1380.7 L1800.2,1377.6 L1801.7,1374.1 L1802.6,1371.7 L1803.2,1369.9 L1804.7,1364.3 L1806.2,1357.7 L1807.7,1350.1 L1809.2,1341.8 L1809.9,1337.8 L1810.7,1332.9 L1812.2,1322.4 L1813.7,1310.7 L1814.8,1301.4 L1815.2,1297.8 L1816.7,1282.5 L1818.2,1266.9 L1818.4,1265.0 L1819.7,1252.7 L1821.2,1239.5 L1822.0,1233.4 L1822.7,1228.3 L1824.2,1217.7 L1825.7,1211.6 L1827.2,1209.8 L1828.7,1208.7 L1829.3,1208.5 L1830.2,1209.0 L1831.7,1211.0 L1833.2,1214.0 L1834.2,1216.4 L1834.7,1217.8 L1836.2,1224.1 L1837.7,1232.6 L1839.0,1240.7 L1839.2,1242.0 L1840.7,1253.2 L1842.2,1266.2 L1843.7,1280.1 L1843.9,1281.9 L1845.2,1294.3 L1846.7,1309.4 L1848.2,1325.2 L1848.7,1330.5 L1849.7,1341.5 L1851.2,1359.0 L1852.7,1376.3 L1853.6,1386.3 L1854.2,1392.8 L1855.7,1408.8 L1857.2,1424.0 L1858.4,1434.9 L1858.7,1437.5 L1860.2,1449.7 L1861.7,1460.8 L1863.2,1470.7 L1863.3,1471.3 L1864.7,1479.6 L1866.2,1487.9 L1867.7,1495.4 L1869.2,1502.0 L1869.4,1502.8 L1870.7,1507.9 L1872.2,1513.5 L1873.7,1518.3 L1875.2,1521.8 L1875.4,1522.2 L1876.7,1524.4 L1878.2,1526.9 L1879.7,1528.9 L1881.2,1530.3 L1882.7,1530.7 L1884.2,1530.3 L1885.7,1529.1 L1887.2,1527.7 L1888.7,1526.5 L1890.0,1525.9 L1890.2,1525.9 L1891.7,1525.4 L1893.2,1525.1 L1894.7,1524.6 L1896.2,1524.4 L1897.7,1524.3 L1899.2,1524.3 L1899.7,1524.1 L1900.7,1524.1 L1902.2,1524.7 L1903.7,1525.5 L1905.2,1526.3 L1906.7,1527.4 L1908.2,1528.6 L1909.4,1529.5 L1909.7,1529.7 L1911.2,1530.9 L1912.7,1532.4 L1914.2,1533.9 L1915.7,1535.4 L1917.2,1537.1 L1918.7,1538.8 L1920.0,1540.4 L1920.2,1540.5 L1921.7,1542.1 L1923.2,1543.8 L1924.7,1545.5 L1926.2,1547.4 L1927.7,1549.2 L1928.7,1550.3 L1929.2,1551.0 L1930.7,1552.7 L1932.2,1554.4 L1933.7,1556.2 L1935.2,1557.8 L1936.7,1559.5 L1938.2,1561.3 L1938.8,1561.9 L1939.7,1562.9 L1941.2,1564.5 L1942.7,1566.1 L1944.2,1567.5 L1945.7,1568.7 L1946.1,1569.0 L1947.2,1569.9 L1948.7,1570.8 L1950.2,1571.7 L1951.7,1572.6 L1953.2,1572.8 L1953.3,1572.7 L1954.7,1572.5 L1956.2,1572.2 L1957.7,1571.7 L1959.2,1571.2 L1960.7,1570.5 L1962.0,1569.8 L1962.2,1569.8 L1963.7,1568.8 L1965.2,1567.6 L1966.7,1566.1 L1968.2,1564.3 L1969.2,1563.3 L1969.7,1562.7 L1971.2,1560.8 L1972.7,1558.7 L1974.2,1556.5 L1975.7,1554.3 L1976.5,1553.2 L1977.2,1552.1 L1978.7,1549.5 L1980.2,1547.1 L1981.7,1545.6 L1982.3,1545.2 L1983.2,1544.9 L1984.7,1544.7 L1986.2,1544.7 L1987.7,1544.7 L1989.2,1544.7 L1989.5,1544.6 L1990.7,1544.9 L1992.2,1545.7 L1993.7,1547.1 L1995.2,1548.7 L1996.7,1550.3 L1998.2,1552.2 L1999.7,1554.5 L2001.2,1556.9 L2002.5,1559.0 L2002.7,1559.4 L2004.2,1562.2 L2005.7,1564.9 L2006.9,1566.2 L2007.2,1566.5 L2008.7,1567.2 L2010.2,1567.8 L2011.7,1568.4 L2013.2,1568.9 L2014.7,1569.2 L2016.2,1569.5 L2017.7,1569.9 L2018.5,1569.9 L2019.2,1569.9 L2020.7,1570.0 L2022.2,1570.2 L2023.7,1570.5 L2025.2,1570.5 L2026.7,1570.5 L2028.2,1570.6 L2029.7,1570.8 L2031.2,1571.0 L2032.7,1571.0 L2034.2,1571.2 L2035.7,1571.3 L2035.8,1571.3 L2037.2,1571.5 L2038.7,1571.6 L2040.2,1571.7 L2041.7,1571.9 L2043.2,1572.0 L2044.7,1572.1 L2046.2,1572.3 L2047.7,1572.6 L2049.2,1572.8 L2050.7,1572.8 L2052.2,1573.0 L2053.7,1573.1 L2055.2,1573.2 L2056.7,1573.4 L2057.5,1573.5 L2058.2,1573.6 L2059.7,1573.7 L2061.2,1573.8 L2062.7,1574.0 L2064.2,1574.3 L2065.7,1574.5 L2067.2,1574.6 L2068.7,1574.7 L2070.2,1574.8 L2071.7,1575.0 L2072.0,1575.0 L2073.2,1574.8 L2074.7,1574.8 L2076.2,1574.5 L2077.7,1574.2 L2079.2,1574.0 L2080.7,1573.6 L2082.2,1573.2 L2083.7,1572.8 L2085.2,1572.4 L2086.5,1572.0 L2086.7,1571.9 L2088.2,1571.3 L2089.7,1570.7 L2091.2,1570.3 L2092.7,1569.7 L2094.2,1568.7 L2095.7,1568.0 L2097.2,1566.7 L2098.1,1565.9 L2098.7,1565.8 L2100.2,1564.7 L2101.7,1564.0 L2103.2,1563.2 L2104.7,1561.8 L2106.2,1561.0 L2107.7,1560.7 L2108.2,1560.0 L2109.2,1559.3 L2110.7,1558.5 L2112.2,1557.4 L2113.7,1556.5 L2115.2,1555.5 L2116.7,1554.3 L2118.2,1554.2 L2119.7,1553.3 L2121.2,1552.9 L2122.7,1553.3 L2124.2,1553.3 L2125.7,1553.3 L2127.2,1553.9 L2128.7,1554.2 L2130.2,1554.5 L2131.7,1554.6 L2132.8,1555.0 L2133.2,1555.4 L2134.7,1554.4 L2136.2,1552.6 L2137.7,1550.4 L2139.2,1548.2 L2140.7,1546.7 L2141.5,1546.7 L2142.2,1547.3 L2143.7,1547.1 L2145.2,1547.1 L2146.7,1547.3 L2148.2,1547.5 L2148.8,1547.5 L2149.7,1546.6 L2151.2,1542.9 L2152.7,1538.2 L2153.1,1537.1 L2154.2,1534.6 L2155.7,1530.9 L2157.2,1526.5 L2157.4,1525.7 L2158.7,1520.5 L2160.2,1513.8 L2161.1,1509.8 L2161.7,1507.2 L2163.2,1501.6 L2164.7,1495.4 L2166.2,1487.3 L2167.6,1480.6 L2167.7,1480.3 L2169.2,1477.8 L2170.7,1475.1 L2171.2,1473.6 L2172.2,1460.1 L2172.6,1456.2 L2173.7,1452.4 L2174.8,1451.0 L2175.2,1451.3 L2176.7,1453.4 L2178.2,1457.1 L2178.4,1457.6 L2179.7,1463.1 L2181.2,1470.4 L2181.3,1470.7 L2182.7,1474.6 L2184.2,1478.3 L2185.0,1480.8 L2185.7,1484.3 L2187.1,1490.9 L2187.2,1491.0 L2188.7,1492.3 L2190.2,1493.4 L2190.7,1493.9 L2191.7,1496.0 L2193.2,1501.7 L2194.7,1508.2 L2195.1,1509.7 L2196.2,1514.8 L2197.7,1520.9 L2198.0,1521.4 L2199.2,1522.3 L2200.7,1522.9 L2202.2,1524.1 L2202.3,1524.1 L2203.7,1526.9 L2205.2,1532.2 L2206.0,1535.8 L2206.7,1539.6 L2208.2,1551.6 L2208.8,1557.5 L2209.7,1569.5 L2210.3,1579.3"/>
</g>
<g font-size="68.4">
<text x="246.0" y="553.2">(a) SiO<tspan font-size="47.5" dy="20.8">2</tspan><tspan dy="-20.8"> NPs</tspan></text>
<text x="237.4" y="1036.3">(b) OA</text>
<text x="241.4" y="1475.2">(c) OA/SiO<tspan font-size="47.5" dy="20.8">2</tspan><tspan dy="-20.8"> NPs</tspan></text>
</g>
<rect x="206.8" y="24.1" width="2004.7" height="1624.0" fill="none" stroke="#000" stroke-width="5.8"/>
<g stroke="#000" stroke-width="5.8"><line x1="206.9" y1="1648.1" x2="206.9" y2="1678.6"/><line x1="346.1" y1="1648.1" x2="346.1" y2="1662.9"/><line x1="485.3" y1="1648.1" x2="485.3" y2="1678.6"/><line x1="624.5" y1="1648.1" x2="624.5" y2="1662.9"/><line x1="763.7" y1="1648.1" x2="763.7" y2="1678.6"/><line x1="902.9" y1="1648.1" x2="902.9" y2="1662.9"/><line x1="1042.1" y1="1648.1" x2="1042.1" y2="1678.6"/><line x1="1181.4" y1="1648.1" x2="1181.4" y2="1662.9"/><line x1="1320.6" y1="1648.1" x2="1320.6" y2="1678.6"/><line x1="1459.8" y1="1648.1" x2="1459.8" y2="1662.9"/><line x1="1599.0" y1="1648.1" x2="1599.0" y2="1678.6"/><line x1="1738.2" y1="1648.1" x2="1738.2" y2="1662.9"/><line x1="1877.4" y1="1648.1" x2="1877.4" y2="1678.6"/><line x1="2016.6" y1="1648.1" x2="2016.6" y2="1662.9"/><line x1="2155.8" y1="1648.1" x2="2155.8" y2="1678.6"/></g>
<g stroke="#999999" stroke-width="3" stroke-dasharray="9 8.28"><line x1="529.3" y1="189.1" x2="529.3" y2="1648"/><line x1="805.5" y1="189.1" x2="805.5" y2="1648"/><line x1="844.5" y1="189.1" x2="844.5" y2="1648"/><line x1="1523.2" y1="189.1" x2="1523.2" y2="1648"/><line x1="1567.8" y1="189.1" x2="1567.8" y2="1648"/><line x1="1649.1" y1="189.1" x2="1649.1" y2="1648"/><line x1="1828.9" y1="189.1" x2="1828.9" y2="1648"/><line x1="1986.5" y1="189.1" x2="1986.5" y2="1648"/></g>
<g font-size="60.5" text-anchor="middle"><text transform="translate(206.9,1746.9) scale(1,1.03)">4000</text><text transform="translate(485.3,1746.9) scale(1,1.03)">3500</text><text transform="translate(763.7,1746.9) scale(1,1.03)">3000</text><text transform="translate(1042.1,1746.9) scale(1,1.03)">2500</text><text transform="translate(1320.6,1746.9) scale(1,1.03)">2000</text><text transform="translate(1599.0,1746.9) scale(1,1.03)">1500</text><text transform="translate(1877.4,1746.9) scale(1,1.03)">1000</text><text transform="translate(2155.8,1746.9) scale(1,1.03)">500</text></g>
<g font-size="55" font-weight="bold"><text transform="translate(547.8,177.0) rotate(-90) scale(1,1.035)">3421</text><text transform="translate(802.3,178.0) rotate(-90) scale(1,1.035)">2925</text><text transform="translate(878.2,178.0) rotate(-90) scale(1,1.035)">2855</text><text transform="translate(1518.5,177.6) rotate(-90) scale(1,1.035)">1636</text><text transform="translate(1594.4,176.4) rotate(-90) scale(1,1.035)">1556</text><text transform="translate(1669.7,177.0) rotate(-90) scale(1,1.035)">1410</text><text transform="translate(1853.1,176.4) rotate(-90) scale(1,1.035)">1087</text><text transform="translate(2016.0,174.2) rotate(-90) scale(1,1.035)">804</text></g>
<text transform="translate(83.3,994.8) rotate(-90) scale(1,0.985)" font-size="75.2">Absorbance</text>
<g transform="translate(0,1883) scale(1,1.10)" font-size="76"><text x="869.9" y="0">Wavenumber (cm</text><text x="1466.3" y="-36.4" font-size="50">&#8722;</text><text x="1497.3" y="-34.6" font-size="50">1</text><text x="1528.6" y="0">)</text></g>
</svg>
</body></html>
